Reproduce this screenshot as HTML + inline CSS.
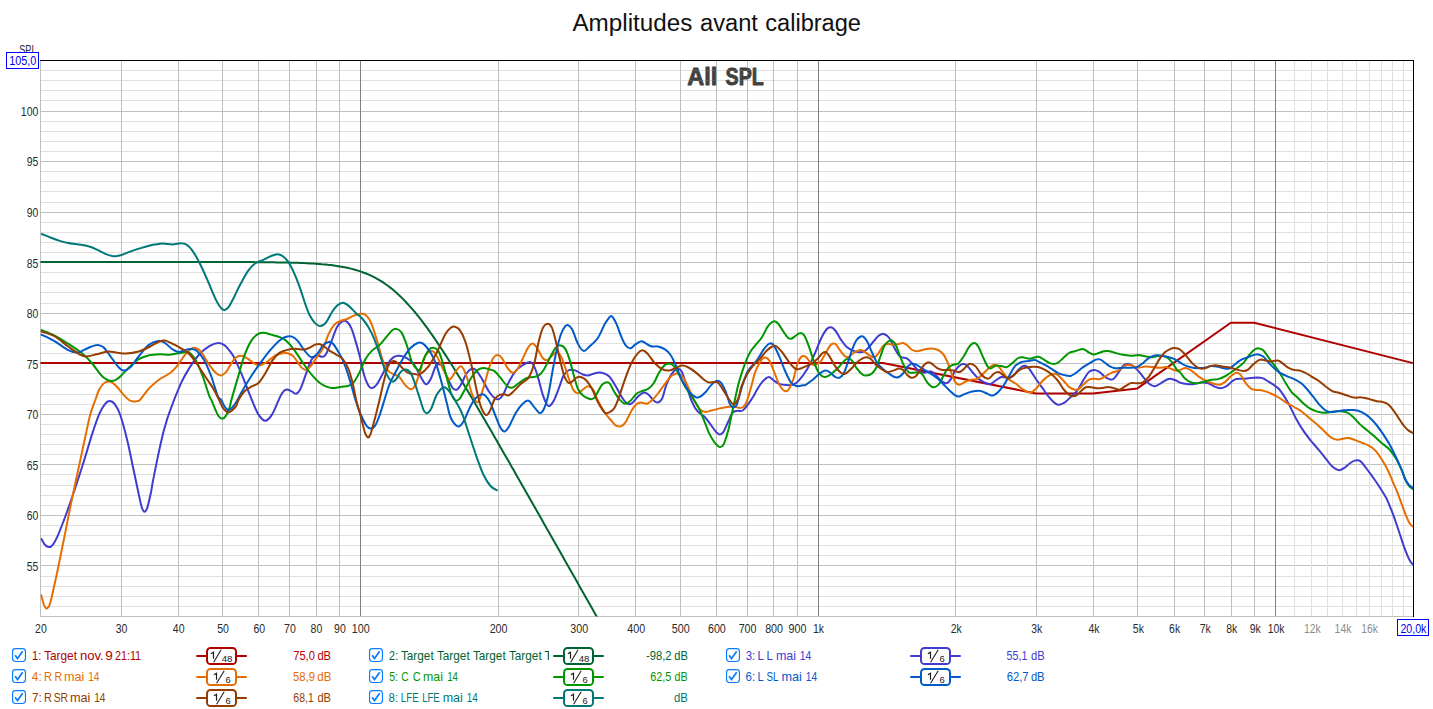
<!DOCTYPE html>
<html><head><meta charset="utf-8"><title>Amplitudes avant calibrage</title>
<style>html,body{margin:0;padding:0;background:#fff;overflow:hidden}body{width:1433px;height:709px;font-family:"Liberation Sans",sans-serif}svg{display:block}</style>
</head><body>
<svg width="1433" height="709" viewBox="0 0 1433 709">
<rect width="1433" height="709" fill="#fff"/>
<g shape-rendering="crispEdges" stroke-width="1" fill="none">
<line x1="40.5" x2="1413.5" y1="606.5" y2="606.5" stroke="#e0e0e0"/>
<line x1="40.5" x2="1413.5" y1="596.5" y2="596.5" stroke="#e0e0e0"/>
<line x1="40.5" x2="1413.5" y1="586.5" y2="586.5" stroke="#e0e0e0"/>
<line x1="40.5" x2="1413.5" y1="576.5" y2="576.5" stroke="#e0e0e0"/>
<line x1="40.5" x2="1413.5" y1="555.5" y2="555.5" stroke="#e0e0e0"/>
<line x1="40.5" x2="1413.5" y1="545.5" y2="545.5" stroke="#e0e0e0"/>
<line x1="40.5" x2="1413.5" y1="535.5" y2="535.5" stroke="#e0e0e0"/>
<line x1="40.5" x2="1413.5" y1="525.5" y2="525.5" stroke="#e0e0e0"/>
<line x1="40.5" x2="1413.5" y1="505.5" y2="505.5" stroke="#e0e0e0"/>
<line x1="40.5" x2="1413.5" y1="495.5" y2="495.5" stroke="#e0e0e0"/>
<line x1="40.5" x2="1413.5" y1="485.5" y2="485.5" stroke="#e0e0e0"/>
<line x1="40.5" x2="1413.5" y1="474.5" y2="474.5" stroke="#e0e0e0"/>
<line x1="40.5" x2="1413.5" y1="454.5" y2="454.5" stroke="#e0e0e0"/>
<line x1="40.5" x2="1413.5" y1="444.5" y2="444.5" stroke="#e0e0e0"/>
<line x1="40.5" x2="1413.5" y1="434.5" y2="434.5" stroke="#e0e0e0"/>
<line x1="40.5" x2="1413.5" y1="424.5" y2="424.5" stroke="#e0e0e0"/>
<line x1="40.5" x2="1413.5" y1="404.5" y2="404.5" stroke="#e0e0e0"/>
<line x1="40.5" x2="1413.5" y1="394.5" y2="394.5" stroke="#e0e0e0"/>
<line x1="40.5" x2="1413.5" y1="383.5" y2="383.5" stroke="#e0e0e0"/>
<line x1="40.5" x2="1413.5" y1="373.5" y2="373.5" stroke="#e0e0e0"/>
<line x1="40.5" x2="1413.5" y1="353.5" y2="353.5" stroke="#e0e0e0"/>
<line x1="40.5" x2="1413.5" y1="343.5" y2="343.5" stroke="#e0e0e0"/>
<line x1="40.5" x2="1413.5" y1="333.5" y2="333.5" stroke="#e0e0e0"/>
<line x1="40.5" x2="1413.5" y1="323.5" y2="323.5" stroke="#e0e0e0"/>
<line x1="40.5" x2="1413.5" y1="303.5" y2="303.5" stroke="#e0e0e0"/>
<line x1="40.5" x2="1413.5" y1="292.5" y2="292.5" stroke="#e0e0e0"/>
<line x1="40.5" x2="1413.5" y1="282.5" y2="282.5" stroke="#e0e0e0"/>
<line x1="40.5" x2="1413.5" y1="272.5" y2="272.5" stroke="#e0e0e0"/>
<line x1="40.5" x2="1413.5" y1="252.5" y2="252.5" stroke="#e0e0e0"/>
<line x1="40.5" x2="1413.5" y1="242.5" y2="242.5" stroke="#e0e0e0"/>
<line x1="40.5" x2="1413.5" y1="232.5" y2="232.5" stroke="#e0e0e0"/>
<line x1="40.5" x2="1413.5" y1="222.5" y2="222.5" stroke="#e0e0e0"/>
<line x1="40.5" x2="1413.5" y1="202.5" y2="202.5" stroke="#e0e0e0"/>
<line x1="40.5" x2="1413.5" y1="191.5" y2="191.5" stroke="#e0e0e0"/>
<line x1="40.5" x2="1413.5" y1="181.5" y2="181.5" stroke="#e0e0e0"/>
<line x1="40.5" x2="1413.5" y1="171.5" y2="171.5" stroke="#e0e0e0"/>
<line x1="40.5" x2="1413.5" y1="151.5" y2="151.5" stroke="#e0e0e0"/>
<line x1="40.5" x2="1413.5" y1="141.5" y2="141.5" stroke="#e0e0e0"/>
<line x1="40.5" x2="1413.5" y1="131.5" y2="131.5" stroke="#e0e0e0"/>
<line x1="40.5" x2="1413.5" y1="121.5" y2="121.5" stroke="#e0e0e0"/>
<line x1="40.5" x2="1413.5" y1="100.5" y2="100.5" stroke="#e0e0e0"/>
<line x1="40.5" x2="1413.5" y1="90.5" y2="90.5" stroke="#e0e0e0"/>
<line x1="40.5" x2="1413.5" y1="80.5" y2="80.5" stroke="#e0e0e0"/>
<line x1="40.5" x2="1413.5" y1="70.5" y2="70.5" stroke="#e0e0e0"/>
<line x1="40.5" x2="1413.5" y1="565.5" y2="565.5" stroke="#c0c0c0"/>
<line x1="40.5" x2="1413.5" y1="515.5" y2="515.5" stroke="#c0c0c0"/>
<line x1="40.5" x2="1413.5" y1="464.5" y2="464.5" stroke="#c0c0c0"/>
<line x1="40.5" x2="1413.5" y1="414.5" y2="414.5" stroke="#c0c0c0"/>
<line x1="40.5" x2="1413.5" y1="363.5" y2="363.5" stroke="#c0c0c0"/>
<line x1="40.5" x2="1413.5" y1="313.5" y2="313.5" stroke="#c0c0c0"/>
<line x1="40.5" x2="1413.5" y1="262.5" y2="262.5" stroke="#c0c0c0"/>
<line x1="40.5" x2="1413.5" y1="212.5" y2="212.5" stroke="#c0c0c0"/>
<line x1="40.5" x2="1413.5" y1="161.5" y2="161.5" stroke="#c0c0c0"/>
<line x1="40.5" x2="1413.5" y1="111.5" y2="111.5" stroke="#c0c0c0"/>
<line x1="1294.5" x2="1294.5" y1="60.5" y2="616.5" stroke="#e0e0e0"/>
<line x1="1311.5" x2="1311.5" y1="60.5" y2="616.5" stroke="#e0e0e0"/>
<line x1="1327.5" x2="1327.5" y1="60.5" y2="616.5" stroke="#e0e0e0"/>
<line x1="1342.5" x2="1342.5" y1="60.5" y2="616.5" stroke="#e0e0e0"/>
<line x1="1356.5" x2="1356.5" y1="60.5" y2="616.5" stroke="#e0e0e0"/>
<line x1="1369.5" x2="1369.5" y1="60.5" y2="616.5" stroke="#e0e0e0"/>
<line x1="1381.5" x2="1381.5" y1="60.5" y2="616.5" stroke="#e0e0e0"/>
<line x1="1392.5" x2="1392.5" y1="60.5" y2="616.5" stroke="#e0e0e0"/>
<line x1="1403.5" x2="1403.5" y1="60.5" y2="616.5" stroke="#e0e0e0"/>
<line x1="121.5" x2="121.5" y1="60.5" y2="616.5" stroke="#c0c0c0"/>
<line x1="178.5" x2="178.5" y1="60.5" y2="616.5" stroke="#c0c0c0"/>
<line x1="222.5" x2="222.5" y1="60.5" y2="616.5" stroke="#c0c0c0"/>
<line x1="258.5" x2="258.5" y1="60.5" y2="616.5" stroke="#c0c0c0"/>
<line x1="289.5" x2="289.5" y1="60.5" y2="616.5" stroke="#c0c0c0"/>
<line x1="316.5" x2="316.5" y1="60.5" y2="616.5" stroke="#c0c0c0"/>
<line x1="339.5" x2="339.5" y1="60.5" y2="616.5" stroke="#c0c0c0"/>
<line x1="498.5" x2="498.5" y1="60.5" y2="616.5" stroke="#c0c0c0"/>
<line x1="578.5" x2="578.5" y1="60.5" y2="616.5" stroke="#c0c0c0"/>
<line x1="635.5" x2="635.5" y1="60.5" y2="616.5" stroke="#c0c0c0"/>
<line x1="680.5" x2="680.5" y1="60.5" y2="616.5" stroke="#c0c0c0"/>
<line x1="716.5" x2="716.5" y1="60.5" y2="616.5" stroke="#c0c0c0"/>
<line x1="747.5" x2="747.5" y1="60.5" y2="616.5" stroke="#c0c0c0"/>
<line x1="773.5" x2="773.5" y1="60.5" y2="616.5" stroke="#c0c0c0"/>
<line x1="797.5" x2="797.5" y1="60.5" y2="616.5" stroke="#c0c0c0"/>
<line x1="955.5" x2="955.5" y1="60.5" y2="616.5" stroke="#c0c0c0"/>
<line x1="1036.5" x2="1036.5" y1="60.5" y2="616.5" stroke="#c0c0c0"/>
<line x1="1093.5" x2="1093.5" y1="60.5" y2="616.5" stroke="#c0c0c0"/>
<line x1="1137.5" x2="1137.5" y1="60.5" y2="616.5" stroke="#c0c0c0"/>
<line x1="1174.5" x2="1174.5" y1="60.5" y2="616.5" stroke="#c0c0c0"/>
<line x1="1204.5" x2="1204.5" y1="60.5" y2="616.5" stroke="#c0c0c0"/>
<line x1="1231.5" x2="1231.5" y1="60.5" y2="616.5" stroke="#c0c0c0"/>
<line x1="1254.5" x2="1254.5" y1="60.5" y2="616.5" stroke="#c0c0c0"/>
<line x1="360.5" x2="360.5" y1="60.5" y2="616.5" stroke="#808080"/>
<line x1="818.5" x2="818.5" y1="60.5" y2="616.5" stroke="#808080"/>
<line x1="1275.5" x2="1275.5" y1="60.5" y2="616.5" stroke="#808080"/>
<line x1="40.5" x2="40.5" y1="60.5" y2="617.0" stroke="#c0c0c0"/>
<line x1="40.0" x2="1414.0" y1="616.5" y2="616.5" stroke="#c0c0c0"/>
<line x1="40.0" x2="1414.0" y1="60.5" y2="60.5" stroke="#000"/>
<line x1="1413.5" x2="1413.5" y1="60.5" y2="617.0" stroke="#000"/>
</g>
<g font-family="Liberation Sans, sans-serif">
<text x="687.3" y="84.5" font-size="23" fill="#404040" textLength="30.0" lengthAdjust="spacingAndGlyphs" font-weight="bold" stroke="#404040" stroke-width="0.8" stroke-linejoin="round">All</text>
<text x="725.6" y="84.5" font-size="23" fill="#404040" textLength="38.2" lengthAdjust="spacingAndGlyphs" font-weight="bold" stroke="#404040" stroke-width="0.8" stroke-linejoin="round">SPL</text>
<clipPath id="wm"><text x="687.3" y="84.5" font-size="23" font-weight="bold" textLength="30.0" lengthAdjust="spacingAndGlyphs">All</text><text x="725.6" y="84.5" font-size="23" font-weight="bold" textLength="38.2" lengthAdjust="spacingAndGlyphs">SPL</text></clipPath>
<g clip-path="url(#wm)" stroke="#5c5c5c" stroke-width="1" shape-rendering="crispEdges"><line x1="680" x2="770" y1="70.5" y2="70.5"/><line x1="680" x2="770" y1="80.5" y2="80.5"/><line x1="716.5" x2="716.5" y1="60" y2="90"/><line x1="747.5" x2="747.5" y1="60" y2="90"/></g>
</g>
<clipPath id="cp"><rect x="40.5" y="60.5" width="1373.0" height="556.0"/></clipPath>
<g clip-path="url(#cp)" fill="none" stroke-width="2" stroke-linejoin="round">
<path d="M39.9,363.1 L882.9,363.1 L1035.8,393.4 L1093.0,393.4 L1137.4,388.4 L1230.8,322.7 L1254.2,322.7 L1412.9,363.1" stroke="#b00000"/>
<path d="M39.9,262.0 L42.9,262.0 L45.9,262.0 L48.9,262.0 L51.9,262.0 L54.9,262.0 L57.9,262.0 L60.9,262.0 L63.9,262.0 L66.9,262.0 L69.9,262.0 L72.9,262.0 L75.9,262.0 L78.9,262.0 L81.9,262.0 L84.9,262.0 L87.9,262.0 L90.9,262.0 L93.9,262.0 L96.9,262.0 L99.9,262.0 L102.9,262.0 L105.9,262.0 L108.9,262.0 L111.9,262.0 L114.9,262.0 L117.9,262.0 L120.9,262.0 L123.9,262.0 L126.9,262.0 L129.9,262.0 L132.9,262.0 L135.9,262.0 L138.9,262.0 L141.9,262.0 L144.9,262.0 L147.9,262.0 L150.9,262.0 L153.9,262.0 L156.9,262.0 L159.9,262.0 L162.9,262.0 L165.9,262.0 L168.9,262.0 L171.9,262.0 L174.9,262.0 L177.9,262.0 L180.9,262.0 L183.9,262.0 L186.9,262.0 L189.9,262.0 L192.9,262.0 L195.9,262.0 L198.9,262.0 L201.9,262.0 L204.9,262.0 L207.9,262.0 L210.9,262.0 L213.9,262.0 L216.9,262.0 L219.9,262.0 L222.9,262.1 L225.9,262.1 L228.9,262.1 L231.9,262.1 L234.9,262.1 L237.9,262.1 L240.9,262.1 L243.9,262.1 L246.9,262.1 L249.9,262.1 L252.9,262.1 L255.9,262.2 L258.9,262.2 L261.9,262.2 L264.9,262.2 L267.9,262.3 L270.9,262.3 L273.9,262.3 L276.9,262.4 L279.9,262.4 L282.9,262.5 L285.9,262.5 L288.9,262.6 L291.9,262.7 L294.9,262.8 L297.9,262.8 L300.9,263.0 L303.9,263.1 L306.9,263.2 L309.9,263.4 L312.9,263.5 L315.9,263.7 L318.9,263.9 L321.9,264.2 L324.9,264.4 L327.9,264.8 L330.9,265.1 L333.9,265.5 L336.9,265.9 L339.9,266.4 L342.9,266.9 L345.9,267.5 L348.9,268.1 L351.9,268.9 L354.9,269.7 L357.9,270.6 L360.9,271.6 L363.9,272.7 L366.9,273.8 L369.9,275.2 L372.9,276.6 L375.9,278.2 L378.9,279.9 L381.9,281.7 L384.9,283.7 L387.9,285.8 L390.9,288.1 L393.9,290.6 L396.9,293.2 L399.9,296.0 L402.9,298.9 L405.9,302.0 L408.9,305.3 L411.9,308.7 L414.9,312.2 L417.9,315.9 L420.9,319.7 L423.9,323.6 L426.9,327.7 L429.9,331.8 L432.9,336.1 L435.9,340.5 L438.9,344.9 L441.9,349.5 L444.9,354.1 L447.9,358.8 L450.9,363.5 L453.9,368.3 L456.9,373.2 L459.9,378.1 L462.9,383.0 L465.9,388.0 L468.9,393.0 L471.9,398.1 L474.9,403.1 L477.9,408.2 L480.9,413.4 L483.9,418.5 L486.9,423.7 L489.9,428.8 L492.9,434.0 L495.9,439.2 L498.9,444.4 L501.9,449.7 L504.9,454.9 L507.9,460.1 L510.9,465.4 L513.9,470.6 L516.9,475.9 L519.9,481.2 L522.9,486.4 L525.9,491.7 L528.9,497.0 L531.9,502.2 L534.9,507.5 L537.9,512.8 L540.9,518.1 L543.9,523.4 L546.9,528.7 L549.9,534.0 L552.9,539.2 L555.9,544.5 L558.9,549.8 L561.9,555.1 L564.9,560.4 L567.9,565.7 L570.9,571.0 L573.9,576.3 L576.9,581.6 L579.9,586.9 L582.9,592.2 L585.9,597.5 L588.9,602.8 L591.9,608.1 L594.9,613.4 L597.9,618.7" stroke="#006432"/>
<path d="M41.0,538.3C41.6,539.3 43.6,543.3 44.9,544.8C46.3,546.3 47.6,547.1 48.9,547.1C50.2,547.1 51.4,546.7 52.8,544.8C54.3,542.9 55.6,540.6 57.8,535.7C59.9,530.8 63.2,522.2 65.7,515.5C68.1,508.9 69.8,504.0 72.6,495.8C75.4,487.6 79.0,476.6 82.3,466.3C85.6,456.0 89.4,442.5 92.2,433.9C95.0,425.2 97.1,419.0 99.2,414.1C101.4,409.2 103.2,406.4 104.9,404.2C106.6,402.1 107.7,401.1 109.4,401.1C111.0,401.1 112.9,401.8 114.8,404.2C116.6,406.6 118.3,409.4 120.4,415.5C122.5,421.6 125.3,432.2 127.4,440.9C129.6,449.6 131.3,459.3 133.1,467.7C134.9,476.1 136.7,484.7 138.1,491.2C139.5,497.7 140.5,503.3 141.6,506.7C142.7,510.1 143.4,511.8 144.4,511.8C145.4,511.8 146.5,510.1 147.6,506.7C148.7,503.3 150.3,495.3 151.2,491.2C152.0,487.0 151.6,488.1 152.8,481.8C154.1,475.5 156.6,462.3 158.5,453.6C160.4,444.9 162.2,436.7 164.1,429.6C166.0,422.6 166.9,419.0 169.8,411.3C172.6,403.5 177.8,390.5 181.0,383.2C184.3,376.0 186.5,372.5 189.5,367.7C192.6,362.9 196.1,357.9 199.4,354.3C202.7,350.7 206.1,348.0 209.3,346.1C212.4,344.2 215.8,343.1 218.4,343.0C221.0,342.9 222.5,343.7 224.8,345.4C227.0,347.2 230.0,351.1 231.8,353.6C233.6,356.1 234.1,357.4 235.6,360.6C237.2,363.9 239.4,368.9 241.3,373.3C243.2,377.8 245.2,383.0 246.9,387.4C248.7,391.9 250.0,395.6 251.9,400.0C253.7,404.4 256.0,410.6 258.2,414.1C260.4,417.6 262.9,420.7 265.3,420.7C267.6,420.7 270.1,417.6 272.3,414.1C274.5,410.6 277.0,403.5 278.7,400.0C280.3,396.5 280.9,394.8 282.2,393.1C283.5,391.3 284.8,389.8 286.4,389.6C288.1,389.3 290.4,391.0 292.1,391.7C293.7,392.4 294.9,394.3 296.3,393.8C297.7,393.3 298.9,392.3 300.5,388.9C302.2,385.4 304.3,378.3 306.2,373.3C308.0,368.4 309.9,362.2 311.8,359.2C313.7,356.3 315.7,356.1 317.4,355.7C319.2,355.3 321.0,357.1 322.4,356.8C323.8,356.6 324.4,357.0 325.9,354.3C327.4,351.6 329.7,345.5 331.6,340.9C333.4,336.3 335.3,330.1 337.2,326.8C339.1,323.5 341.2,322.0 342.8,321.2C344.5,320.3 345.7,320.7 347.1,321.9C348.5,323.0 349.9,325.0 351.3,328.2C352.7,331.4 354.1,336.2 355.5,340.9C356.9,345.6 358.3,350.8 359.8,356.4C361.2,362.1 362.6,369.9 364.0,374.8C365.4,379.6 366.9,383.1 368.2,385.3C369.5,387.6 370.3,388.3 371.7,388.2C373.2,388.0 374.9,386.9 376.7,384.6C378.4,382.4 380.4,378.3 382.3,374.8C384.2,371.2 386.1,366.4 388.0,363.5C389.8,360.5 391.7,358.4 393.6,357.1C395.5,355.8 397.1,355.6 399.3,355.7C401.4,355.8 404.0,356.5 406.3,357.8C408.7,359.1 411.0,360.4 413.4,363.5C415.7,366.5 418.6,373.0 420.4,376.2C422.2,379.4 423.1,381.3 424.2,382.6C425.3,384.0 425.9,384.9 427.1,384.0C428.2,383.2 429.9,380.6 431.3,377.7C432.7,374.8 434.2,368.7 435.5,366.4C436.8,364.2 437.9,364.3 439.0,364.3C440.2,364.3 441.3,364.4 442.6,366.4C443.9,368.4 445.2,372.8 446.8,376.3C448.4,379.8 450.8,385.3 452.4,387.6C454.1,389.8 455.3,390.2 456.7,389.7C458.1,389.2 459.3,387.5 460.9,384.8C462.5,382.0 464.7,376.2 466.5,373.5C468.4,370.8 470.5,369.0 472.2,368.5C473.8,368.1 474.8,368.9 476.4,370.6C478.1,372.4 479.9,375.6 482.1,379.1C484.2,382.6 487.0,388.6 489.1,391.8C491.2,395.0 493.1,396.9 494.8,398.2C496.4,399.4 497.6,399.7 499.0,399.1C500.4,398.6 501.6,397.5 503.2,394.6C504.9,391.8 506.7,385.9 508.9,381.9C511.0,377.9 513.6,373.5 515.9,370.6C518.3,367.8 520.6,366.5 523.0,365.0C525.3,363.5 528.1,361.7 530.0,361.9C531.9,362.1 532.8,363.5 534.2,366.4C535.7,369.3 537.1,374.4 538.5,379.1C539.9,383.8 541.3,390.4 542.7,394.6C544.1,398.9 545.8,402.6 546.9,404.5C548.1,406.4 548.6,406.6 549.8,405.9C550.9,405.2 552.3,403.6 554.0,400.3C555.6,397.0 558.0,390.4 559.6,386.2C561.3,381.9 562.2,377.6 563.9,374.9C565.5,372.2 567.6,370.7 569.5,369.9C571.4,369.2 573.0,369.7 575.1,370.4C577.3,371.1 580.1,373.3 582.2,374.2C584.3,375.0 585.7,375.7 587.8,375.6C590.0,375.4 592.5,373.7 594.9,373.2C597.2,372.7 599.6,372.2 601.9,372.8C604.3,373.3 606.7,374.1 609.0,376.3C611.3,378.5 613.4,382.3 615.6,386.0C617.9,389.7 620.6,395.5 622.7,398.5C624.8,401.5 626.7,403.4 628.3,404.1C630.0,404.8 630.9,404.0 632.6,402.7C634.2,401.4 636.3,398.0 638.2,396.3C640.1,394.7 642.2,392.9 643.9,392.5C645.5,392.2 646.4,392.9 648.1,394.2C649.7,395.6 652.1,399.2 653.7,400.6C655.4,401.9 656.5,402.8 658.0,402.4C659.4,402.1 660.8,401.4 662.2,398.5C663.6,395.5 664.8,388.8 666.4,384.6C668.1,380.4 670.2,375.9 672.1,373.3C673.9,370.8 676.1,369.3 677.7,369.1C679.3,368.9 680.5,369.3 681.9,371.9C683.3,374.5 684.5,379.7 686.2,384.6C687.8,389.5 689.9,396.9 691.8,401.3C693.7,405.7 695.3,408.6 697.4,411.2C699.6,413.7 702.4,414.7 704.5,416.8C706.6,418.9 708.3,421.4 710.1,423.9C712.0,426.3 714.4,430.0 715.8,431.6C717.1,433.3 717.5,433.3 718.2,433.7C718.9,434.2 719.4,434.5 720.0,434.4C720.6,434.4 721.3,434.1 722.0,433.4C722.7,432.8 723.2,432.7 724.2,430.6C725.3,428.6 727.1,424.0 728.5,421.0C729.9,418.0 731.3,414.3 732.7,412.6C734.1,410.9 735.3,411.2 736.9,410.9C738.6,410.5 740.7,411.6 742.6,410.5C744.5,409.3 746.3,406.6 748.2,404.1C750.1,401.6 752.5,397.9 753.9,395.6C755.3,393.3 755.3,392.6 756.7,390.3C758.1,388.0 760.3,384.0 762.3,381.8C764.3,379.6 766.8,377.1 768.7,376.9C770.6,376.6 771.8,379.2 773.6,380.4C775.4,381.6 777.1,383.1 779.3,383.9C781.4,384.7 784.0,384.9 786.3,385.0C788.7,385.2 791.2,385.4 793.4,384.6C795.5,383.9 796.7,383.0 799.0,380.4C801.3,377.8 804.5,373.4 807.1,369.2C809.6,365.0 811.8,360.3 814.1,355.1C816.5,350.0 819.0,342.6 821.2,338.2C823.3,333.9 825.2,330.9 826.8,329.0C828.4,327.2 829.6,327.0 831.0,327.2C832.4,327.4 833.6,328.4 835.3,330.5C836.9,332.5 839.0,336.9 840.9,339.6C842.8,342.3 844.4,344.8 846.5,346.7C848.7,348.6 851.5,350.0 853.6,350.9C855.7,351.8 857.4,352.3 859.2,352.3C861.1,352.3 863.0,352.1 864.9,350.9C866.8,349.7 868.6,347.4 870.5,345.3C872.4,343.1 874.5,340.0 876.2,338.2C877.8,336.4 879.1,335.4 880.4,334.7C881.7,334.0 882.5,333.5 883.9,334.0C885.3,334.4 887.1,335.2 888.9,337.5C890.6,339.9 892.6,344.9 894.5,348.1C896.4,351.3 898.0,354.8 900.1,356.5C902.3,358.3 905.1,357.4 907.2,358.7C909.3,360.0 911.0,362.3 912.8,364.3C914.7,366.3 916.6,369.2 918.5,370.6C920.4,372.1 922.0,372.6 924.1,372.8C926.2,372.9 929.1,370.8 931.2,371.4C933.3,371.9 934.9,374.5 936.8,376.3C938.7,378.1 940.8,380.8 942.5,381.9C944.1,383.1 945.3,383.5 946.7,383.1C948.1,382.6 949.5,381.2 950.9,379.1C952.3,377.0 953.7,372.9 955.1,370.6C956.6,368.4 958.0,366.8 959.4,365.7C960.8,364.6 962.2,363.9 963.6,364.0C965.0,364.1 966.2,364.8 967.8,366.4C969.5,368.0 971.6,371.4 973.5,373.5C975.4,375.6 977.2,377.6 979.1,379.1C981.0,380.6 982.9,381.8 984.8,382.6C986.6,383.5 988.6,384.4 990.4,384.0C992.2,383.7 993.8,381.7 995.6,380.5C997.5,379.3 999.4,377.5 1001.3,377.0C1003.2,376.5 1005.0,377.8 1006.9,377.7C1008.8,377.6 1010.7,377.6 1012.6,376.3C1014.4,375.0 1016.6,371.6 1018.2,369.9C1019.9,368.3 1021.1,367.1 1022.4,366.4C1023.7,365.8 1024.8,365.5 1026.0,366.0C1027.1,366.5 1028.0,367.3 1029.5,369.2C1031.0,371.2 1033.0,374.6 1035.1,377.7C1037.2,380.8 1039.8,384.3 1042.2,387.6C1044.5,390.9 1047.1,394.9 1049.2,397.4C1051.4,400.0 1053.2,401.9 1054.9,403.1C1056.5,404.3 1057.5,404.9 1059.1,404.8C1060.8,404.7 1062.9,403.6 1064.8,402.4C1066.6,401.2 1068.3,399.4 1070.4,397.4C1072.5,395.4 1075.3,393.2 1077.4,390.4C1079.6,387.6 1081.2,383.6 1083.1,380.5C1085.0,377.5 1087.0,373.8 1088.7,372.1C1090.5,370.3 1092.0,370.1 1093.7,369.9C1095.3,369.8 1096.8,370.3 1098.6,371.4C1100.4,372.4 1102.4,375.0 1104.2,376.3C1106.1,377.6 1108.2,379.0 1109.9,379.4C1111.5,379.7 1112.5,379.9 1114.1,378.4C1115.8,376.9 1118.1,372.9 1119.8,370.6C1121.4,368.4 1122.6,366.1 1124.0,365.0C1125.4,363.9 1126.8,363.9 1128.2,364.0C1129.6,364.1 1130.8,364.6 1132.5,365.7C1134.1,366.8 1136.2,368.7 1138.1,370.6C1140.0,372.6 1141.9,375.5 1143.7,377.7C1145.6,379.9 1147.5,382.6 1149.4,384.0C1151.3,385.5 1153.1,386.3 1155.0,386.2C1156.9,386.0 1158.8,384.4 1160.7,383.3C1162.5,382.3 1164.7,380.6 1166.3,379.8C1168.0,379.1 1168.9,378.7 1170.5,378.8C1172.2,378.9 1174.6,379.9 1176.2,380.5C1177.8,381.2 1178.2,382.0 1180.0,382.6C1181.8,383.2 1184.7,383.8 1187.1,384.0C1189.4,384.3 1191.8,384.3 1194.1,384.0C1196.5,383.8 1198.8,382.8 1201.2,382.6C1203.5,382.5 1205.9,382.6 1208.2,383.3C1210.6,384.0 1213.1,386.0 1215.3,386.9C1217.4,387.7 1219.0,388.4 1220.9,388.3C1222.8,388.2 1224.7,387.3 1226.5,386.2C1228.4,385.0 1230.5,382.4 1232.2,381.2C1233.8,380.1 1234.5,379.5 1236.4,379.1C1238.3,378.7 1241.1,378.9 1243.5,378.7C1245.8,378.5 1248.2,378.3 1250.5,378.1C1252.9,377.9 1255.5,377.4 1257.6,377.4C1259.7,377.5 1261.3,377.7 1263.2,378.4C1265.1,379.2 1267.0,380.8 1268.9,381.9C1270.7,383.1 1272.6,384.0 1274.5,385.5C1276.4,386.9 1277.9,387.5 1280.1,390.4C1282.4,393.3 1285.5,398.1 1288.1,402.7C1290.7,407.3 1293.2,413.3 1295.7,417.9C1298.2,422.6 1300.8,426.8 1303.3,430.6C1305.9,434.4 1308.4,437.6 1310.9,440.8C1313.5,443.9 1316.0,446.6 1318.5,449.7C1321.1,452.7 1323.8,456.3 1326.2,459.2C1328.5,462.0 1330.4,465.0 1332.5,466.8C1334.6,468.6 1337.0,470.0 1338.9,470.2C1340.8,470.4 1342.0,469.3 1343.9,468.1C1345.8,466.9 1348.4,464.3 1350.3,463.0C1352.2,461.7 1353.7,460.8 1355.4,460.4C1357.0,460.1 1358.7,459.9 1360.4,461.1C1362.1,462.2 1364.3,465.9 1365.5,467.4C1366.7,468.9 1366.2,468.1 1367.6,470.0C1369.0,471.9 1371.7,475.6 1373.8,478.5C1375.9,481.5 1378.0,484.6 1380.0,487.8C1382.1,491.1 1384.4,494.4 1386.2,497.9C1388.0,501.4 1389.3,504.9 1390.9,508.8C1392.4,512.7 1394.0,516.8 1395.5,521.2C1397.1,525.6 1398.6,530.5 1400.2,535.2C1401.7,539.8 1403.3,545.0 1404.9,549.2C1406.4,553.3 1408.1,557.4 1409.5,560.0C1410.9,562.7 1412.7,564.2 1413.4,565.0" stroke="#403cd0"/>
<path d="M41.0,594.5C41.5,596.2 43.0,602.5 43.9,604.8C44.9,607.1 45.9,608.5 46.9,608.4C47.9,608.2 48.7,607.5 49.9,604.0C51.0,600.6 52.2,595.0 53.8,587.6C55.5,580.3 57.8,569.5 59.7,560.0C61.7,550.4 63.7,540.2 65.7,530.4C67.6,520.5 69.1,512.6 71.6,500.7C74.1,488.9 78.3,469.4 80.5,459.2C82.7,449.0 83.1,447.0 84.7,439.5C86.4,432.0 88.6,420.7 90.4,414.1C92.1,407.5 93.8,404.2 95.3,400.0C96.8,395.8 97.9,391.8 99.5,388.9C101.1,385.9 103.0,383.7 104.9,382.5C106.7,381.3 108.6,381.2 110.5,381.8C112.4,382.4 113.8,383.7 116.2,386.0C118.5,388.4 122.5,393.6 124.6,395.9C126.8,398.2 128.0,399.1 129.1,400.0C130.3,400.9 130.8,400.9 131.7,401.1C132.6,401.4 133.6,401.6 134.5,401.6C135.4,401.6 136.4,401.4 137.3,401.1C138.2,400.9 138.7,401.2 139.9,400.0C141.0,398.8 142.7,396.3 144.4,394.2C146.1,392.1 147.4,390.0 150.0,387.4C152.6,384.9 156.6,381.3 159.9,379.0C163.2,376.6 166.9,375.5 169.8,373.3C172.6,371.2 174.2,369.5 176.8,366.3C179.4,363.1 182.8,357.2 185.3,354.3C187.7,351.4 190.0,349.7 191.6,348.7C193.3,347.6 193.6,347.5 195.1,348.0C196.7,348.4 198.4,348.7 200.8,351.5C203.1,354.3 206.7,361.2 209.3,364.9C211.8,368.5 214.3,371.6 216.3,373.3C218.3,375.1 219.6,375.7 221.2,375.5C222.9,375.2 224.7,373.6 226.2,371.9C227.6,370.3 228.4,367.9 230.0,365.6C231.6,363.2 233.6,359.5 235.6,357.8C237.6,356.2 239.9,355.5 242.0,355.7C244.1,355.9 246.1,357.8 248.3,359.2C250.6,360.6 253.4,363.2 255.4,364.2C257.4,365.2 258.4,365.5 260.3,365.2C262.2,364.8 264.2,363.6 266.7,362.1C269.1,360.5 272.5,357.2 275.1,355.7C277.7,354.2 280.1,353.6 282.2,353.2C284.3,352.8 285.9,352.8 287.8,353.3C289.7,353.9 291.4,354.3 293.5,356.4C295.6,358.6 298.5,364.1 300.5,366.3C302.5,368.5 303.8,369.8 305.5,369.8C307.1,369.8 308.4,368.5 310.4,366.3C312.4,364.1 315.3,359.5 317.4,356.4C319.6,353.4 321.2,351.7 323.1,348.0C325.0,344.2 326.9,337.7 328.7,333.9C330.6,330.0 332.5,326.8 334.4,324.7C336.3,322.6 337.9,322.1 340.0,321.2C342.1,320.2 344.7,320.0 347.1,319.0C349.4,318.1 351.9,316.4 354.1,315.5C356.4,314.6 358.6,313.8 360.5,313.7C362.3,313.6 363.6,313.3 365.4,314.8C367.2,316.3 369.2,318.5 371.0,322.6C372.9,326.7 374.8,333.4 376.7,339.5C378.6,345.6 380.4,354.1 382.3,359.2C384.2,364.4 386.1,368.1 388.0,370.5C389.8,373.0 391.7,373.0 393.6,374.0C395.5,375.1 397.4,375.1 399.3,376.9C401.1,378.6 403.0,382.6 404.9,384.6C406.8,386.7 408.9,389.0 410.5,389.3C412.2,389.5 413.4,388.5 414.8,386.0C416.2,383.6 417.2,379.9 419.0,374.8C420.8,369.6 423.6,359.1 425.6,355.1C427.7,351.2 429.6,351.1 431.3,350.9C432.9,350.7 433.9,351.4 435.5,353.7C437.2,356.1 439.3,361.2 441.2,365.0C443.0,368.8 445.3,373.9 446.8,376.3C448.3,378.6 448.9,379.8 450.3,379.1C451.7,378.4 453.6,374.2 455.3,372.1C456.9,369.9 458.8,366.9 460.2,366.4C461.6,365.9 462.4,366.9 463.7,369.2C465.0,371.6 466.5,376.3 468.0,380.5C469.4,384.8 470.8,391.1 472.2,394.6C473.6,398.2 475.2,400.7 476.4,401.7C477.6,402.6 478.1,402.6 479.2,400.3C480.4,397.9 481.8,393.0 483.5,387.6C485.1,382.2 487.5,372.8 489.1,367.8C490.8,362.9 491.9,360.1 493.3,358.0C494.8,355.8 496.2,355.1 497.6,355.1C499.0,355.1 500.2,355.8 501.8,358.0C503.5,360.1 505.7,365.4 507.4,367.8C509.2,370.3 510.7,372.5 512.4,372.8C514.0,373.0 515.6,371.7 517.3,369.2C519.1,366.8 521.1,361.7 523.0,358.0C524.8,354.2 527.0,349.1 528.6,346.7C530.2,344.3 531.4,343.3 532.8,343.6C534.2,343.8 535.4,345.7 537.1,348.1C538.7,350.5 541.1,356.0 542.7,358.0C544.4,360.0 545.3,360.5 546.9,360.1C548.6,359.6 550.9,356.4 552.6,355.1C554.2,353.8 555.4,352.1 556.8,352.3C558.2,352.5 559.6,354.0 561.0,356.5C562.5,359.1 563.9,363.8 565.3,367.8C566.7,371.8 568.1,376.8 569.5,380.5C570.9,384.3 572.3,388.3 573.7,390.4C575.1,392.5 576.3,393.5 578.0,393.2C579.6,393.0 581.8,390.2 583.6,389.0C585.4,387.8 586.9,385.9 588.5,386.2C590.2,386.4 592.0,388.0 593.5,390.4C595.0,392.7 595.8,396.6 597.7,400.3C599.6,404.0 602.4,409.2 604.8,412.7C607.1,416.2 610.0,419.1 611.8,421.2C613.6,423.3 614.2,424.4 615.6,425.3C617.1,426.1 618.9,426.9 620.6,426.4C622.2,425.9 623.8,425.0 625.5,422.4C627.3,419.9 629.3,414.2 631.2,411.2C633.0,408.1 635.2,405.6 636.8,404.1C638.4,402.6 639.4,402.5 641.0,402.4C642.7,402.3 644.8,404.1 646.7,403.7C648.6,403.3 650.4,401.6 652.3,399.9C654.2,398.2 655.6,396.5 658.0,393.5C660.3,390.5 664.1,384.8 666.4,381.8C668.8,378.8 670.2,376.8 672.1,375.5C673.9,374.1 675.8,373.3 677.7,373.6C679.6,374.0 681.5,375.0 683.3,377.6C685.2,380.1 687.1,384.9 689.0,388.9C690.9,392.8 692.7,397.8 694.6,401.3C696.5,404.8 698.4,408.0 700.3,409.7C702.1,411.5 704.0,411.7 705.9,411.9C707.8,412.0 709.4,411.0 711.6,410.5C713.7,409.9 716.0,409.2 718.6,408.6C721.2,408.0 724.5,407.3 727.1,406.9C729.7,406.6 732.0,406.5 734.1,406.6C736.2,406.8 738.2,408.0 739.8,408.1C741.3,408.1 742.1,408.1 743.3,406.9C744.5,405.8 745.5,404.5 746.8,401.3C748.1,398.0 749.6,392.3 751.0,387.4C752.5,382.6 753.6,376.4 755.3,371.9C756.9,367.5 759.3,363.1 760.9,360.6C762.6,358.2 763.7,357.4 765.1,357.4C766.6,357.4 768.0,358.5 769.4,360.6C770.8,362.8 772.0,366.5 773.6,370.5C775.3,374.5 777.4,381.2 779.3,384.6C781.1,388.0 783.2,390.3 784.9,391.0C786.5,391.7 787.7,390.9 789.1,388.9C790.5,386.9 791.9,383.2 793.4,379.0C794.8,374.8 796.2,367.2 797.6,363.5C799.0,359.7 800.4,357.5 801.8,356.4C803.2,355.4 804.5,355.9 806.1,357.1C807.6,358.3 809.7,362.3 811.3,363.6C812.9,364.9 813.9,365.5 815.5,365.0C817.2,364.5 819.3,363.1 821.2,360.8C823.0,358.4 825.2,353.6 826.8,350.9C828.4,348.2 829.6,345.7 831.0,344.6C832.4,343.4 833.9,343.0 835.3,343.9C836.7,344.7 838.1,347.6 839.5,349.5C840.9,351.4 842.3,353.8 843.7,355.1C845.1,356.4 846.3,357.6 848.0,357.2C849.6,356.9 851.7,354.2 853.6,353.0C855.5,351.8 857.6,350.6 859.2,350.2C860.9,349.8 861.8,350.1 863.5,350.9C865.1,351.7 867.2,354.1 869.1,355.1C871.0,356.2 873.1,357.7 874.8,357.2C876.4,356.8 877.6,354.2 879.0,352.3C880.4,350.4 881.8,347.4 883.2,346.0C884.6,344.6 885.8,344.1 887.4,343.9C889.1,343.6 891.2,344.6 893.1,344.6C895.0,344.6 897.1,344.1 898.7,343.9C900.4,343.6 901.6,342.9 903.0,343.1C904.4,343.4 905.8,344.2 907.2,345.3C908.6,346.3 909.8,348.5 911.4,349.5C913.1,350.5 915.2,351.3 917.1,351.3C918.9,351.4 920.8,350.3 922.7,349.9C924.6,349.5 926.5,349.0 928.3,348.8C930.2,348.6 932.1,348.4 934.0,348.8C935.9,349.1 938.0,349.8 939.6,350.9C941.3,352.0 942.5,353.0 943.9,355.1C945.3,357.2 946.8,360.5 948.1,363.6C949.4,366.7 950.4,370.4 951.6,373.5C952.8,376.5 953.9,380.1 955.1,381.9C956.4,383.8 957.7,384.8 959.4,384.8C961.0,384.8 963.1,382.8 965.0,381.9C966.9,381.1 968.8,380.3 970.7,379.8C972.5,379.3 974.4,379.9 976.3,379.1C978.2,378.3 980.1,376.5 981.9,374.9C983.8,373.2 986.2,370.5 987.6,369.2C988.9,367.9 988.9,367.9 990.0,367.1C991.1,366.4 992.8,364.8 994.2,364.7C995.6,364.6 997.1,365.2 998.5,366.4C999.9,367.6 1001.0,369.9 1002.7,372.1C1004.3,374.2 1006.2,377.2 1008.3,379.1C1010.5,381.0 1013.0,381.7 1015.4,383.3C1017.7,385.0 1020.3,387.5 1022.4,389.0C1024.6,390.5 1026.4,391.8 1028.1,392.2C1029.7,392.7 1030.9,392.5 1032.3,391.8C1033.7,391.1 1034.9,390.0 1036.5,388.3C1038.2,386.5 1040.3,383.2 1042.2,381.2C1044.1,379.2 1045.9,377.5 1047.8,376.3C1049.7,375.0 1051.8,374.0 1053.5,373.8C1055.1,373.5 1056.1,373.8 1057.7,374.9C1059.3,376.0 1061.5,378.5 1063.3,380.5C1065.2,382.5 1067.1,385.3 1069.0,386.9C1070.9,388.4 1073.0,389.3 1074.6,389.7C1076.3,390.0 1077.4,389.8 1078.9,389.0C1080.3,388.2 1081.4,386.3 1083.1,384.8C1084.7,383.2 1086.9,380.8 1088.7,379.8C1090.6,378.8 1092.5,378.9 1094.4,378.8C1096.3,378.7 1098.1,379.5 1100.0,379.1C1101.9,378.7 1103.8,377.3 1105.7,376.3C1107.5,375.2 1109.2,373.7 1111.3,372.8C1113.4,371.8 1116.2,371.7 1118.3,370.6C1120.5,369.6 1122.3,367.4 1124.0,366.4C1125.6,365.4 1126.8,364.8 1128.2,364.7C1129.6,364.6 1130.8,365.2 1132.5,365.7C1134.1,366.2 1136.0,367.7 1138.1,367.8C1140.2,367.9 1142.8,366.5 1145.1,366.4C1147.5,366.3 1149.8,366.9 1152.2,367.1C1154.6,367.4 1156.9,367.8 1159.3,367.8C1161.6,367.8 1164.2,366.9 1166.3,367.1C1168.4,367.4 1170.3,368.7 1171.9,369.2C1173.6,369.8 1174.8,370.5 1176.2,370.6C1177.5,370.8 1178.4,370.4 1180.0,369.9C1181.6,369.5 1183.8,368.0 1185.6,368.1C1187.5,368.2 1189.2,369.3 1191.3,370.6C1193.4,372.0 1196.0,374.6 1198.3,376.3C1200.7,377.9 1203.0,379.3 1205.4,380.5C1207.7,381.7 1210.1,382.6 1212.4,383.3C1214.8,384.0 1217.4,385.0 1219.5,384.8C1221.6,384.5 1223.3,383.3 1225.1,381.9C1227.0,380.5 1228.9,377.8 1230.8,376.3C1232.7,374.8 1234.8,373.0 1236.4,372.8C1238.1,372.5 1239.2,373.4 1240.6,374.9C1242.1,376.4 1243.2,379.7 1244.9,381.9C1246.5,384.2 1248.9,387.0 1250.5,388.3C1252.2,389.6 1252.7,389.3 1254.8,389.7C1256.8,390.1 1260.1,390.1 1262.7,390.6C1265.3,391.2 1267.8,392.1 1270.3,393.2C1272.8,394.2 1275.4,395.5 1277.9,397.0C1280.5,398.5 1283.0,400.5 1285.5,402.1C1288.1,403.6 1290.6,405.0 1293.2,406.5C1295.7,408.0 1298.2,409.1 1300.8,410.9C1303.3,412.7 1305.9,415.2 1308.4,417.3C1310.9,419.4 1313.5,421.4 1316.0,423.6C1318.5,425.9 1321.1,428.3 1323.6,430.6C1326.2,432.9 1328.9,436.1 1331.2,437.6C1333.6,439.1 1335.5,439.6 1337.6,439.8C1339.7,439.9 1342.0,438.8 1343.9,438.5C1345.8,438.2 1347.1,437.7 1349.0,438.0C1350.9,438.3 1353.2,439.4 1355.4,440.1C1357.5,440.9 1359.4,441.7 1361.7,442.7C1364.0,443.6 1367.0,444.5 1369.3,445.9C1371.6,447.2 1373.6,448.6 1375.7,450.9C1377.8,453.3 1379.9,456.4 1382.0,459.8C1384.1,463.2 1386.6,467.7 1388.4,471.2C1390.1,474.7 1391.0,477.4 1392.4,480.9C1393.9,484.3 1395.5,487.8 1397.1,491.7C1398.6,495.6 1400.2,500.0 1401.7,504.1C1403.3,508.3 1405.0,513.2 1406.4,516.6C1407.8,519.9 1409.1,522.6 1410.3,524.3C1411.4,526.0 1412.9,526.4 1413.4,526.8" stroke="#e66e00"/>
<path d="M40.7,329.9C42.9,330.8 49.5,333.0 54.1,335.3C58.7,337.6 63.5,340.7 68.2,343.7C72.9,346.8 78.3,350.3 82.3,353.6C86.3,356.9 88.9,359.7 92.2,363.5C95.5,367.2 98.8,373.2 102.1,376.2C105.4,379.1 109.1,380.9 111.9,381.1C114.8,381.3 116.4,379.6 119.0,377.6C121.6,375.6 124.2,372.2 127.4,369.1C130.7,366.1 135.2,361.5 138.7,359.2C142.3,357.0 145.1,356.3 148.6,355.4C152.1,354.6 156.4,354.4 159.9,354.3C163.4,354.2 166.2,355.0 169.8,354.7C173.3,354.5 178.0,353.3 181.0,352.9C184.1,352.5 185.7,351.1 188.1,352.2C190.4,353.2 192.8,355.5 195.1,359.2C197.5,363.0 199.8,368.6 202.2,374.8C204.6,380.9 207.7,391.7 209.3,395.9C210.8,400.1 210.4,397.9 211.4,400.0C212.3,402.1 213.7,405.8 214.9,408.5C216.1,411.1 217.2,414.1 218.4,415.8C219.7,417.5 221.1,418.8 222.4,418.8C223.7,418.7 225.0,417.3 226.2,415.4C227.4,413.4 228.8,409.6 229.7,407.1C230.6,404.5 230.2,404.4 231.4,400.0C232.6,395.6 234.9,387.7 237.1,380.4C239.2,373.1 241.8,363.0 244.1,356.4C246.5,349.8 248.8,344.7 251.2,340.9C253.5,337.1 256.1,335.2 258.2,333.9C260.3,332.5 261.7,332.6 263.9,332.7C266.0,332.8 268.3,333.9 270.9,334.6C273.5,335.3 276.8,335.9 279.4,337.0C282.0,338.0 283.8,338.6 286.4,340.9C289.0,343.2 292.1,347.0 294.9,350.8C297.7,354.5 300.5,359.5 303.3,363.5C306.2,367.5 309.0,371.5 311.8,374.8C314.6,378.0 317.4,381.1 320.3,383.2C323.1,385.3 326.4,386.7 328.7,387.4C331.1,388.2 332.3,388.0 334.4,387.9C336.5,387.8 339.1,387.1 341.4,386.7C343.8,386.4 346.4,386.6 348.5,385.8C350.6,384.9 352.2,384.1 354.1,381.8C356.0,379.5 357.9,375.7 359.8,371.9C361.6,368.2 363.3,362.9 365.4,359.2C367.5,355.6 370.1,352.4 372.5,350.1C374.8,347.7 377.2,347.4 379.5,345.1C381.9,342.9 384.4,339.1 386.6,336.7C388.7,334.2 390.6,331.6 392.2,330.3C393.8,329.0 394.9,328.6 396.4,328.9C398.0,329.3 399.7,330.0 401.4,332.4C403.0,334.9 404.5,338.8 406.3,343.7C408.1,348.7 410.1,357.7 411.9,362.1C413.8,366.4 416.2,368.6 417.6,369.8C418.9,371.0 418.9,371.2 420.0,369.2C421.1,367.3 422.7,361.2 424.2,358.0C425.8,354.7 427.6,351.2 429.2,349.5C430.7,347.8 431.9,347.6 433.4,347.8C434.9,348.0 436.8,348.5 438.3,350.9C439.9,353.3 441.2,357.7 442.6,362.2C444.0,366.7 445.4,372.5 446.8,377.7C448.2,382.9 449.6,389.5 451.0,393.2C452.4,397.0 453.9,399.3 455.3,400.3C456.7,401.2 457.8,400.7 459.5,398.9C461.1,397.0 463.0,392.7 465.1,389.0C467.2,385.2 470.1,379.5 472.2,376.3C474.3,373.1 475.9,371.3 477.8,369.9C479.7,368.6 481.6,368.2 483.5,368.1C485.4,368.0 487.2,368.7 489.1,369.2C491.0,369.8 492.9,369.9 494.8,371.4C496.6,372.8 498.3,375.2 500.4,377.7C502.5,380.2 505.4,384.5 507.4,386.2C509.4,387.8 510.5,388.0 512.4,387.6C514.3,387.1 516.5,384.9 518.7,383.3C521.0,381.8 523.4,379.5 525.8,378.4C528.1,377.3 530.7,377.5 532.8,377.0C535.0,376.5 536.6,376.9 538.5,375.6C540.4,374.3 542.2,372.2 544.1,369.2C546.0,366.3 547.9,361.5 549.8,358.0C551.6,354.4 553.8,350.2 555.4,348.1C557.0,346.0 558.0,345.1 559.6,345.3C561.3,345.4 563.6,346.4 565.3,348.8C566.9,351.1 568.1,355.0 569.5,359.4C570.9,363.7 572.3,369.9 573.7,374.9C575.1,379.8 576.3,385.5 578.0,389.0C579.6,392.5 581.3,394.3 583.6,396.0C586.0,397.7 590.0,399.4 592.1,399.1C594.2,398.9 594.7,397.0 596.3,394.6C598.0,392.2 600.2,386.8 601.9,384.8C603.7,382.7 605.5,382.4 606.9,382.2C608.2,382.1 608.8,382.3 610.0,383.9C611.2,385.5 612.6,389.0 614.2,391.7C615.9,394.3 618.0,397.8 619.9,399.9C621.8,401.9 623.6,403.8 625.5,403.8C627.4,403.8 629.3,401.6 631.2,399.9C633.0,398.2 634.9,395.0 636.8,393.5C638.7,392.0 640.6,391.8 642.4,391.0C644.3,390.2 646.2,390.2 648.1,388.9C650.0,387.6 651.8,386.0 653.7,383.2C655.6,380.4 657.5,375.0 659.4,371.9C661.2,368.9 663.4,366.2 665.0,364.9C666.7,363.5 667.8,363.6 669.2,363.8C670.6,363.9 671.8,363.8 673.5,365.6C675.1,367.4 677.2,371.3 679.1,374.8C681.0,378.2 682.9,382.7 684.8,386.0C686.6,389.3 688.3,391.3 690.4,394.5C692.5,397.7 695.3,401.6 697.4,405.5C699.6,409.5 701.2,413.7 703.1,418.2C705.0,422.7 706.9,428.3 708.7,432.3C710.6,436.3 712.8,439.9 714.4,442.2C715.9,444.5 716.9,445.2 717.9,446.0C718.9,446.8 719.5,447.1 720.3,447.1C721.0,447.1 721.7,446.6 722.4,445.9C723.1,445.1 723.5,445.2 724.5,442.5C725.5,439.7 727.1,434.9 728.5,429.5C729.8,424.0 731.1,417.2 732.7,409.7C734.4,402.3 736.7,391.2 738.3,384.6C740.0,378.1 741.2,374.8 742.6,370.5C744.0,366.3 745.4,362.5 746.8,359.2C748.2,355.9 749.4,353.4 751.0,350.8C752.7,348.2 754.8,346.1 756.7,343.7C758.6,341.4 760.4,339.6 762.3,336.7C764.2,333.7 766.1,328.6 768.0,326.1C769.8,323.6 772.0,321.9 773.6,321.4C775.3,321.0 776.2,321.6 777.8,323.3C779.5,325.0 781.8,329.4 783.5,331.7C785.1,334.1 786.4,336.2 787.7,337.4C789.0,338.6 789.8,339.1 791.2,338.8C792.7,338.4 794.6,336.2 796.2,335.3C797.7,334.3 799.1,333.1 800.4,333.1C801.8,333.2 802.9,333.4 804.2,335.4C805.6,337.4 807.1,341.5 808.5,345.3C809.9,349.0 811.3,354.0 812.7,358.0C814.1,362.0 815.5,366.3 816.9,369.2C818.3,372.2 819.7,374.3 821.2,375.6C822.6,376.9 823.7,377.2 825.4,377.0C827.0,376.8 828.9,375.7 831.0,374.2C833.1,372.6 835.7,370.2 838.1,367.8C840.4,365.5 843.4,361.6 845.1,360.1C846.9,358.5 847.5,358.5 848.7,358.7C849.8,358.8 850.9,359.2 852.2,360.8C853.5,362.3 854.8,365.6 856.4,367.8C858.1,370.1 860.4,372.9 862.1,374.2C863.7,375.5 864.6,375.7 866.3,375.6C867.9,375.5 870.3,374.8 871.9,373.5C873.6,372.2 874.8,370.6 876.2,367.8C877.6,365.0 879.0,360.3 880.4,356.5C881.8,352.8 883.2,347.8 884.6,345.3C886.0,342.7 887.7,341.9 888.9,341.0C890.0,340.2 890.5,339.6 891.7,340.3C892.9,341.0 894.5,342.6 895.9,345.3C897.3,348.0 898.7,353.0 900.1,356.5C901.6,360.1 903.0,363.8 904.4,366.4C905.8,369.0 907.2,371.0 908.6,372.1C910.0,373.1 911.2,372.8 912.8,372.8C914.5,372.8 916.8,371.7 918.5,372.1C920.1,372.4 921.3,373.2 922.7,374.9C924.1,376.5 925.5,380.0 926.9,381.9C928.3,383.9 929.8,385.6 931.2,386.4C932.6,387.3 934.0,387.4 935.4,386.9C936.8,386.4 938.2,385.3 939.6,383.3C941.0,381.3 942.5,377.5 943.9,374.9C945.3,372.3 946.7,369.5 948.1,367.8C949.5,366.2 950.7,365.7 952.3,365.0C954.0,364.3 956.1,365.0 958.0,363.6C959.8,362.2 961.7,359.4 963.6,356.5C965.5,353.7 967.5,348.9 969.3,346.7C971.0,344.4 972.7,343.1 974.2,343.1C975.7,343.1 976.9,344.2 978.4,346.7C979.9,349.1 981.8,354.7 983.4,358.0C984.9,361.2 986.4,364.7 987.6,366.4C988.8,368.2 989.1,368.7 990.4,368.5C991.8,368.4 993.8,366.1 995.6,365.7C997.5,365.3 999.4,365.9 1001.3,366.1C1003.2,366.4 1005.0,367.7 1006.9,367.1C1008.8,366.6 1010.7,364.4 1012.6,362.9C1014.4,361.4 1016.6,358.9 1018.2,358.0C1019.9,357.0 1020.6,357.1 1022.4,357.2C1024.3,357.4 1027.4,358.7 1029.5,358.7C1031.6,358.7 1033.6,357.6 1035.1,357.2C1036.7,356.9 1037.2,356.5 1038.7,356.8C1040.1,357.2 1041.8,358.4 1043.6,359.4C1045.4,360.4 1047.6,362.1 1049.2,362.9C1050.9,363.6 1052.1,363.9 1053.5,363.9C1054.9,363.9 1056.1,363.9 1057.7,362.9C1059.3,361.9 1061.5,359.6 1063.3,358.0C1065.2,356.3 1067.1,354.1 1069.0,353.0C1070.9,351.9 1072.7,351.9 1074.6,351.3C1076.5,350.7 1078.7,349.8 1080.3,349.5C1081.8,349.1 1082.4,348.7 1083.8,349.2C1085.2,349.7 1087.1,351.4 1088.7,352.3C1090.4,353.2 1092.0,354.3 1093.7,354.4C1095.3,354.5 1096.8,353.6 1098.6,353.0C1100.4,352.5 1102.4,351.5 1104.2,351.2C1106.1,350.9 1107.8,350.8 1109.9,351.2C1112.0,351.6 1114.6,352.8 1116.9,353.4C1119.3,354.1 1121.6,354.5 1124.0,354.9C1126.3,355.3 1128.7,355.8 1131.0,355.8C1133.4,355.9 1135.7,355.1 1138.1,355.1C1140.4,355.2 1142.8,355.9 1145.1,356.3C1147.5,356.6 1149.8,357.3 1152.2,357.2C1154.6,357.2 1156.9,355.8 1159.3,355.8C1161.6,355.8 1164.2,356.2 1166.3,357.2C1168.4,358.3 1170.1,360.0 1171.9,362.2C1173.8,364.4 1176.2,369.0 1177.6,370.6C1178.9,372.3 1178.9,370.9 1180.0,372.1C1181.1,373.2 1182.6,376.1 1184.2,377.7C1185.9,379.3 1187.8,381.0 1189.9,381.9C1192.0,382.9 1194.6,383.4 1196.9,383.3C1199.3,383.3 1201.6,382.2 1204.0,381.7C1206.3,381.1 1208.7,380.2 1211.0,379.8C1213.4,379.4 1216.0,379.6 1218.1,379.1C1220.2,378.6 1221.8,377.9 1223.7,377.0C1225.6,376.1 1227.2,374.9 1229.4,373.5C1231.5,372.1 1234.1,370.3 1236.4,368.5C1238.8,366.8 1241.4,365.1 1243.5,362.9C1245.6,360.7 1247.2,357.4 1249.1,355.1C1251.0,352.9 1253.1,350.6 1254.8,349.5C1256.4,348.4 1257.6,348.2 1259.0,348.4C1260.4,348.5 1261.6,348.6 1263.2,350.2C1264.9,351.8 1267.0,355.4 1268.9,358.0C1270.7,360.5 1272.6,363.1 1274.5,365.7C1276.4,368.3 1278.3,370.5 1280.1,373.5C1282.0,376.4 1283.9,380.3 1285.8,383.3C1287.7,386.4 1289.6,389.5 1291.4,391.8C1293.3,394.1 1295.0,395.1 1297.0,397.0C1298.9,398.9 1301.2,401.4 1303.3,403.3C1305.4,405.2 1307.3,407.0 1309.7,408.4C1312.0,409.8 1314.7,410.8 1317.3,411.6C1319.8,412.3 1322.6,412.8 1324.9,412.8C1327.2,412.9 1328.9,412.2 1331.2,411.8C1333.6,411.5 1336.3,410.9 1338.9,410.9C1341.4,411.0 1344.1,411.3 1346.5,412.2C1348.8,413.2 1350.7,414.8 1352.8,416.7C1354.9,418.6 1356.8,421.4 1359.2,423.6C1361.5,425.9 1364.2,427.9 1366.8,430.0C1369.3,432.1 1371.9,434.1 1374.4,436.3C1376.9,438.6 1379.5,441.1 1382.0,443.3C1384.6,445.5 1387.3,447.1 1389.6,449.7C1392.0,452.2 1393.9,454.9 1396.0,458.5C1398.1,462.1 1400.8,467.9 1402.3,471.2C1403.8,474.6 1403.8,476.2 1404.9,478.5C1405.9,480.9 1407.3,483.7 1408.7,485.5C1410.2,487.3 1412.6,488.8 1413.4,489.4" stroke="#009600"/>
<path d="M40.7,334.3C42.9,335.4 49.5,338.3 54.1,340.9C58.7,343.5 64.2,348.1 68.2,350.1C72.2,352.0 74.8,352.8 78.1,352.5C81.4,352.1 84.8,349.2 88.0,348.0C91.1,346.7 94.5,345.0 97.1,344.9C99.7,344.7 101.2,345.3 103.5,347.2C105.7,349.2 107.9,353.0 110.5,356.4C113.1,359.8 116.7,365.4 119.0,367.7C121.3,370.1 122.3,370.6 124.2,370.5C126.1,370.5 127.8,369.8 130.3,367.4C132.7,365.1 135.7,360.1 138.7,356.4C141.8,352.7 145.5,347.7 148.6,345.1C151.7,342.6 154.5,341.7 157.1,341.2C159.7,340.7 161.5,340.9 164.1,342.3C166.7,343.7 170.1,347.8 172.6,349.4C175.0,351.0 176.6,351.9 178.9,351.9C181.3,352.0 184.6,350.1 186.7,349.6C188.8,349.2 190.0,348.8 191.6,348.9C193.3,349.1 194.6,349.1 196.6,350.8C198.6,352.5 201.3,355.2 203.6,359.2C206.0,363.2 208.3,368.6 210.7,374.8C213.0,380.9 216.0,391.7 217.7,395.9C219.5,400.1 220.1,398.2 221.2,400.0C222.4,401.8 223.6,405.1 224.8,406.8C225.9,408.5 227.2,409.9 228.3,410.2C229.4,410.4 230.4,409.3 231.5,408.2C232.7,407.1 233.5,406.5 235.3,403.5C237.2,400.5 240.1,394.8 242.7,390.3C245.3,385.7 248.1,380.9 251.2,376.2C254.2,371.5 257.7,366.5 261.0,362.1C264.3,357.6 267.6,353.1 270.9,349.4C274.2,345.6 278.0,341.7 280.8,339.5C283.6,337.3 285.9,336.9 287.8,336.4C289.7,335.9 290.4,335.9 292.1,336.7C293.7,337.4 295.6,338.6 297.7,340.9C299.8,343.3 302.5,348.1 304.8,350.8C307.0,353.5 309.0,356.7 311.1,357.1C313.2,357.6 315.4,355.6 317.4,353.6C319.4,351.6 321.2,347.1 323.1,345.1C325.0,343.2 327.1,342.1 328.7,341.9C330.4,341.7 331.3,342.0 333.0,343.7C334.6,345.4 336.7,348.9 338.6,352.2C340.5,355.5 342.4,358.8 344.2,363.5C346.1,368.2 348.0,374.3 349.9,380.4C351.8,386.5 353.6,394.1 355.5,400.0C357.4,405.9 359.3,411.2 361.2,415.5C363.1,419.9 365.2,423.9 366.8,426.1C368.5,428.3 369.6,428.7 371.0,428.6C372.5,428.5 373.9,427.6 375.3,425.4C376.7,423.2 378.0,419.7 379.5,415.5C381.0,411.3 382.8,405.1 384.4,400.0C386.1,394.9 387.4,389.5 389.4,384.6C391.4,379.7 394.1,375.0 396.4,370.5C398.8,366.1 401.1,361.6 403.5,357.8C405.8,354.1 408.2,350.4 410.5,348.0C412.9,345.5 415.7,343.8 417.6,343.0C419.5,342.2 420.5,342.5 421.8,343.0C423.2,343.5 424.1,344.2 425.6,346.0C427.2,347.8 429.4,350.3 431.3,353.7C433.2,357.1 435.0,361.0 436.9,366.4C438.8,371.8 440.9,380.1 442.6,386.2C444.2,392.3 445.4,397.7 446.8,403.1C448.2,408.5 449.1,414.4 451.0,418.3C452.9,422.2 456.0,426.0 458.1,426.5C460.2,427.0 461.8,424.2 463.7,421.2C465.6,418.1 467.5,412.2 469.4,408.5C471.2,404.7 473.1,401.2 475.0,398.9C476.9,396.6 479.0,395.2 480.6,394.6C482.3,394.0 483.2,393.9 484.9,395.3C486.5,396.7 488.9,400.0 490.5,403.1C492.2,406.2 493.1,410.0 494.8,414.1C496.4,418.2 498.7,424.6 500.4,427.5C502.0,430.4 503.2,431.6 504.6,431.5C506.0,431.3 507.0,429.9 508.9,426.8C510.7,423.7 513.6,416.6 515.9,412.7C518.3,408.8 520.8,405.5 523.0,403.5C525.1,401.5 526.7,400.1 528.6,400.7C530.5,401.3 532.4,405.0 534.2,407.1C536.1,409.1 538.2,412.9 539.9,413.1C541.5,413.4 542.7,411.5 544.1,408.5C545.5,405.4 546.9,400.9 548.3,394.6C549.8,388.3 551.2,378.2 552.6,370.6C554.0,363.1 555.4,355.6 556.8,349.5C558.2,343.4 559.6,337.9 561.0,334.0C562.5,330.1 564.1,327.7 565.3,326.2C566.5,324.8 566.9,324.6 568.1,325.2C569.3,325.8 570.7,326.6 572.3,329.7C574.0,332.8 576.1,340.3 578.0,343.9C579.8,347.4 581.7,350.4 583.6,350.9C585.5,351.4 586.9,348.8 589.3,346.7C591.6,344.6 595.1,342.0 597.7,338.2C600.3,334.4 602.7,327.7 604.8,324.1C606.9,320.5 608.9,317.3 610.4,316.3C611.9,315.4 612.4,316.8 613.5,318.3C614.6,319.8 615.8,322.3 617.1,325.4C618.3,328.4 619.9,333.4 621.3,336.7C622.7,340.0 624.0,343.2 625.5,345.1C627.0,347.1 628.8,348.4 630.5,348.2C632.1,348.1 633.6,345.6 635.4,344.4C637.2,343.3 639.4,341.4 641.0,341.2C642.7,340.9 643.6,342.2 645.3,343.0C646.9,343.9 648.8,345.7 650.9,346.3C653.0,346.9 655.6,346.0 658.0,346.5C660.3,347.1 662.9,348.0 665.0,349.4C667.1,350.8 668.8,352.2 670.6,355.0C672.5,357.8 674.4,362.1 676.3,366.3C678.2,370.5 679.8,376.2 681.9,380.4C684.0,384.6 686.6,388.9 689.0,391.7C691.3,394.5 694.2,396.5 696.0,397.3C697.9,398.1 698.6,397.6 700.3,396.6C701.9,395.7 704.0,393.7 705.9,391.7C707.8,389.7 709.7,386.5 711.6,384.6C713.4,382.8 715.5,380.9 717.2,380.7C718.8,380.4 720.0,381.4 721.4,383.2C722.8,385.0 724.2,388.2 725.7,391.7C727.1,395.2 728.6,401.5 729.9,404.1C731.2,406.7 732.2,407.2 733.4,407.2C734.6,407.2 735.4,407.9 736.9,404.1C738.5,400.3 740.7,390.2 742.6,384.6C744.5,379.0 745.9,374.5 748.2,370.5C750.6,366.5 754.1,364.2 756.7,360.6C759.3,357.1 761.6,352.2 763.7,349.4C765.9,346.5 767.7,344.4 769.4,343.7C771.0,343.0 772.0,343.0 773.6,345.1C775.3,347.2 777.4,352.2 779.3,356.4C781.1,360.6 783.0,366.3 784.9,370.5C786.8,374.8 788.7,379.2 790.5,381.8C792.4,384.4 794.1,385.4 796.2,386.0C798.3,386.6 801.7,385.5 803.2,385.3C804.8,385.1 804.1,385.7 805.6,384.8C807.2,383.8 810.3,381.7 812.7,379.8C815.0,377.9 817.6,375.0 819.7,373.5C821.9,371.9 823.7,370.9 825.4,370.6C827.0,370.4 828.0,371.0 829.6,372.1C831.3,373.1 833.6,376.1 835.3,377.0C836.9,377.9 838.1,378.3 839.5,377.7C840.9,377.1 842.3,376.1 843.7,373.5C845.1,370.9 846.5,366.2 848.0,362.2C849.4,358.2 850.8,353.1 852.2,349.5C853.6,345.8 855.0,342.5 856.4,340.3C857.8,338.2 859.5,337.1 860.6,336.5C861.8,335.9 862.3,335.8 863.5,336.8C864.6,337.8 866.3,339.9 867.7,342.4C869.1,345.0 870.3,348.8 871.9,352.3C873.6,355.8 875.7,360.8 877.6,363.6C879.5,366.4 881.3,367.6 883.2,369.2C885.1,370.9 887.0,372.2 888.9,373.5C890.7,374.8 892.9,376.4 894.5,377.0C896.1,377.6 897.3,377.6 898.7,377.0C900.1,376.4 901.6,375.1 903.0,373.5C904.4,371.8 905.8,368.7 907.2,367.1C908.6,365.5 910.0,364.3 911.4,363.9C912.8,363.4 914.0,363.6 915.7,364.3C917.3,365.0 919.4,366.7 921.3,367.8C923.2,369.0 925.1,370.2 926.9,371.4C928.8,372.5 930.7,373.6 932.6,374.9C934.5,376.2 936.3,377.5 938.2,379.1C940.1,380.8 942.0,382.9 943.9,384.8C945.7,386.6 947.6,388.6 949.5,390.4C951.4,392.2 953.5,394.3 955.1,395.3C956.8,396.3 957.7,396.7 959.4,396.5C961.0,396.2 962.9,394.7 965.0,393.9C967.1,393.1 969.7,392.1 972.1,391.5C974.4,391.0 977.0,390.5 979.1,390.7C981.2,390.8 982.9,391.7 984.8,392.5C986.6,393.3 988.9,394.9 990.4,395.3C991.9,395.8 992.2,395.9 993.5,395.3C994.9,394.7 996.7,393.6 998.5,391.8C1000.2,390.0 1002.2,387.6 1004.1,384.8C1006.0,381.9 1007.9,378.1 1009.7,374.9C1011.6,371.7 1013.5,367.8 1015.4,365.7C1017.3,363.6 1018.9,363.0 1021.0,362.2C1023.1,361.4 1025.7,361.4 1028.1,361.1C1030.4,360.7 1033.3,359.9 1035.1,360.1C1037.0,360.3 1037.5,361.2 1039.4,362.2C1041.2,363.1 1044.3,364.5 1046.4,365.7C1048.5,366.9 1050.2,368.1 1052.1,369.2C1053.9,370.4 1055.8,371.8 1057.7,372.8C1059.6,373.7 1061.2,374.4 1063.3,374.9C1065.5,375.4 1068.3,376.2 1070.4,375.9C1072.5,375.5 1073.9,374.2 1076.0,372.8C1078.2,371.3 1080.7,368.8 1083.1,367.1C1085.4,365.5 1088.0,364.1 1090.1,362.9C1092.3,361.6 1094.1,360.2 1095.8,359.6C1097.4,359.1 1098.6,358.9 1100.0,359.4C1101.4,359.8 1102.6,361.0 1104.2,362.2C1105.9,363.4 1108.0,365.4 1109.9,366.4C1111.8,367.4 1113.4,368.0 1115.5,368.3C1117.6,368.5 1120.2,367.9 1122.6,367.8C1124.9,367.8 1127.3,367.9 1129.6,367.8C1132.0,367.7 1134.6,367.8 1136.7,367.1C1138.8,366.4 1140.4,365.0 1142.3,363.6C1144.2,362.2 1146.1,360.0 1148.0,358.7C1149.8,357.3 1151.7,356.1 1153.6,355.6C1155.5,355.0 1157.1,355.3 1159.3,355.4C1161.4,355.6 1164.0,356.0 1166.3,356.5C1168.7,357.1 1171.1,357.7 1173.4,358.7C1175.6,359.6 1178.0,361.3 1180.0,362.5C1182.0,363.6 1183.5,364.8 1185.6,365.7C1187.8,366.6 1190.3,367.4 1192.7,367.8C1195.0,368.2 1197.6,368.2 1199.7,368.1C1201.9,368.1 1203.5,367.9 1205.4,367.5C1207.3,367.2 1208.9,366.3 1211.0,366.1C1213.1,366.0 1215.7,366.4 1218.1,366.8C1220.4,367.2 1223.3,368.3 1225.1,368.5C1227.0,368.8 1227.7,369.2 1229.4,368.5C1231.0,367.8 1233.1,365.7 1235.0,364.3C1236.9,362.9 1238.5,361.2 1240.6,360.1C1242.8,358.9 1245.6,358.1 1247.7,357.2C1249.8,356.4 1251.6,355.6 1253.3,355.1C1255.1,354.7 1256.6,354.2 1258.3,354.4C1259.9,354.7 1261.5,355.1 1263.2,356.5C1265.0,358.0 1267.0,360.9 1268.9,362.9C1270.7,364.9 1272.6,366.9 1274.5,368.5C1276.4,370.2 1278.0,371.5 1280.1,372.8C1282.3,374.1 1284.8,375.2 1287.2,376.3C1289.5,377.3 1291.9,377.9 1294.2,379.1C1296.6,380.3 1299.2,381.7 1301.3,383.3C1303.4,385.0 1305.1,386.9 1306.9,389.0C1308.8,391.1 1310.4,393.3 1312.6,396.0C1314.7,398.7 1317.6,402.7 1319.8,405.2C1322.1,407.7 1324.3,409.8 1326.2,410.9C1328.1,412.1 1329.1,412.2 1331.2,412.2C1333.4,412.2 1336.3,411.3 1338.9,410.9C1341.4,410.6 1343.9,410.2 1346.5,410.1C1349.0,409.9 1351.5,409.7 1354.1,410.1C1356.6,410.4 1359.2,411.0 1361.7,412.2C1364.2,413.4 1366.8,415.1 1369.3,417.3C1371.9,419.5 1374.6,422.7 1376.9,425.5C1379.3,428.4 1381.2,431.3 1383.3,434.4C1385.4,437.6 1387.5,440.8 1389.6,444.6C1391.7,448.4 1394.1,453.3 1396.0,457.3C1397.9,461.3 1399.6,465.2 1401.1,468.7C1402.5,472.2 1403.6,475.9 1404.9,478.5C1406.1,481.2 1407.3,483.1 1408.7,484.7C1410.2,486.4 1412.6,487.7 1413.4,488.3" stroke="#005ac8"/>
<path d="M40.7,331.3C42.9,332.1 49.5,333.4 54.1,336.0C58.7,338.5 64.0,343.5 68.2,346.5C72.4,349.6 76.4,352.7 79.5,354.3C82.5,355.9 83.7,356.4 86.5,356.4C89.4,356.4 92.9,355.1 96.4,354.3C99.9,353.5 104.4,351.8 107.7,351.5C111.0,351.2 113.1,352.1 116.2,352.5C119.2,352.8 122.3,353.8 126.0,353.6C129.8,353.4 134.7,352.7 138.7,351.5C142.7,350.3 146.5,348.3 150.0,346.5C153.5,344.8 157.3,342.2 159.9,341.2C162.5,340.2 163.2,340.1 165.5,340.6C167.9,341.2 170.9,342.9 174.0,344.4C177.0,346.0 181.3,348.4 183.9,350.1C186.5,351.7 187.4,352.1 189.5,354.3C191.6,356.5 194.0,359.8 196.6,363.5C199.1,367.1 202.2,371.9 205.0,376.2C207.8,380.4 211.1,384.9 213.5,388.9C215.8,392.8 217.6,396.9 219.1,400.0C220.7,403.1 221.5,405.7 222.7,407.6C223.8,409.5 225.2,410.6 226.2,411.4C227.2,412.2 227.8,412.6 228.7,412.4C229.7,412.3 230.6,411.6 231.8,410.6C233.0,409.5 234.9,407.8 236.1,406.1C237.2,404.3 237.1,402.4 238.5,400.0C239.8,397.6 242.0,393.9 244.1,391.7C246.2,389.5 248.8,388.2 251.2,386.7C253.5,385.3 255.9,385.4 258.2,383.2C260.6,381.0 262.9,377.1 265.3,373.3C267.6,369.6 270.0,364.1 272.3,360.6C274.7,357.2 277.0,354.7 279.4,352.9C281.7,351.1 283.8,350.8 286.4,350.1C289.0,349.4 292.1,348.7 294.9,348.7C297.7,348.6 301.0,349.8 303.3,349.6C305.7,349.5 307.1,348.8 309.0,348.0C310.9,347.2 313.0,345.5 314.6,344.9C316.3,344.2 317.4,343.8 318.9,344.0C320.3,344.2 321.4,344.8 323.1,345.8C324.7,346.9 326.6,348.7 328.7,350.1C330.8,351.5 333.4,352.8 335.8,354.3C338.1,355.8 340.7,356.8 342.8,359.2C345.0,361.7 346.8,365.1 348.5,369.1C350.1,373.1 351.4,378.1 352.7,383.2C354.0,388.4 354.8,394.1 356.2,400.0C357.6,405.9 359.7,412.8 361.2,418.3C362.7,423.9 364.0,430.0 365.1,433.1C366.2,436.3 367.2,436.9 367.9,437.4C368.7,437.9 368.9,437.0 369.5,436.1C370.1,435.2 370.4,434.9 371.3,431.7C372.3,428.5 373.9,422.2 375.3,416.9C376.6,411.6 378.1,405.9 379.5,400.0C380.9,394.1 382.3,387.4 383.7,381.8C385.1,376.2 386.6,369.7 388.0,366.3C389.4,362.9 390.8,362.1 392.2,361.4C393.6,360.6 394.8,361.0 396.4,362.1C398.1,363.1 400.2,365.9 402.1,367.7C404.0,369.5 405.6,371.6 407.7,372.6C409.8,373.7 412.7,373.8 414.8,374.0C416.8,374.3 417.7,375.4 420.0,374.2C422.3,372.9 425.6,370.1 428.5,366.4C431.3,362.8 434.1,357.7 436.9,352.3C439.7,346.9 443.0,338.1 445.4,334.0C447.7,329.9 449.5,328.9 451.0,327.6C452.6,326.4 453.1,326.3 454.6,326.6C456.0,327.0 457.7,327.3 459.5,329.7C461.3,332.1 463.3,335.6 465.1,341.0C467.0,346.4 468.9,354.2 470.8,362.2C472.7,370.2 474.8,381.7 476.4,389.0C478.1,396.3 479.1,401.6 480.6,405.9C482.2,410.2 484.1,413.9 485.6,414.8C487.1,415.7 488.3,413.9 489.8,411.3C491.3,408.6 493.0,401.6 494.8,398.9C496.5,396.1 498.7,395.4 500.4,394.6C502.0,393.9 503.2,394.2 504.6,394.3C506.0,394.5 507.2,396.0 508.9,395.3C510.5,394.7 512.4,392.4 514.5,390.4C516.6,388.4 519.2,385.5 521.6,383.3C523.9,381.2 526.5,381.0 528.6,377.7C530.7,374.4 532.6,369.5 534.2,363.6C535.9,357.7 537.1,348.3 538.5,342.4C539.9,336.6 541.2,331.5 542.7,328.3C544.2,325.2 546.1,323.8 547.6,323.7C549.2,323.6 550.6,325.0 551.9,327.6C553.2,330.3 554.1,334.6 555.4,339.6C556.7,344.7 558.2,352.1 559.6,358.0C561.0,363.8 562.5,370.8 563.9,374.9C565.3,379.0 566.8,381.5 568.1,382.6C569.4,383.8 570.2,382.8 571.6,381.9C573.0,381.1 575.0,378.5 576.6,377.7C578.1,376.9 579.1,376.5 580.8,377.0C582.4,377.5 584.6,378.5 586.4,380.5C588.3,382.5 590.2,385.5 592.1,389.0C594.0,392.5 595.6,397.7 597.7,401.7C599.8,405.6 602.7,411.0 604.8,412.7C606.8,414.4 608.4,412.6 610.0,411.9C611.6,411.1 612.8,410.6 614.2,408.3C615.6,406.1 616.8,402.9 618.5,398.5C620.1,394.0 622.0,387.6 624.1,381.8C626.2,376.0 628.8,368.3 631.2,363.5C633.5,358.7 636.2,355.1 638.2,352.9C640.2,350.7 641.5,350.1 643.1,350.4C644.8,350.6 646.1,352.1 648.1,354.3C650.1,356.5 652.8,361.0 655.1,363.5C657.5,365.9 659.8,367.9 662.2,369.1C664.5,370.3 666.9,370.8 669.2,370.5C671.6,370.3 674.2,368.5 676.3,367.7C678.4,366.9 680.1,365.7 681.9,365.6C683.8,365.5 685.2,365.8 687.6,367.0C689.9,368.2 693.5,370.6 696.0,372.6C698.6,374.6 701.0,377.3 703.1,379.0C705.2,380.6 706.9,382.0 708.7,382.5C710.6,383.0 712.7,382.0 714.4,382.1C716.0,382.2 717.0,381.6 718.6,383.2C720.2,384.8 722.6,389.1 724.2,391.7C725.9,394.2 726.9,396.4 728.5,398.5C730.0,400.5 731.8,404.1 733.4,404.1C735.1,404.1 737.1,401.2 738.3,398.5C739.6,395.7 739.8,391.4 741.2,387.4C742.6,383.5 744.9,378.3 746.8,374.8C748.7,371.2 750.3,368.9 752.5,366.3C754.6,363.7 757.2,361.8 759.5,359.2C761.9,356.7 764.4,352.9 766.6,350.8C768.7,348.7 770.6,347.3 772.2,346.5C773.8,345.8 774.8,345.3 776.4,346.3C778.1,347.2 780.0,349.6 782.1,352.2C784.2,354.8 787.0,359.4 789.1,362.1C791.2,364.8 793.1,367.2 794.8,368.4C796.4,369.6 797.2,369.4 799.0,369.1C800.8,368.8 803.4,367.5 805.6,366.4C807.9,365.4 810.6,364.3 812.7,362.9C814.8,361.5 816.7,359.6 818.3,358.0C820.0,356.3 821.3,354.0 822.6,353.0C823.9,352.1 824.9,351.7 826.1,352.3C827.3,352.9 828.1,354.2 829.6,356.5C831.1,358.9 833.4,363.7 835.3,366.4C837.1,369.1 839.3,371.5 840.9,372.8C842.5,374.0 843.5,374.3 845.1,373.8C846.8,373.2 848.9,371.0 850.8,369.2C852.7,367.4 854.5,364.7 856.4,362.9C858.3,361.1 860.4,359.6 862.1,358.7C863.7,357.7 864.9,357.2 866.3,357.2C867.7,357.2 868.9,357.4 870.5,358.7C872.2,360.0 874.3,363.2 876.2,365.0C878.0,366.8 879.9,368.1 881.8,369.2C883.7,370.4 885.6,371.8 887.4,372.1C889.3,372.3 891.2,371.2 893.1,370.6C895.0,370.1 897.1,368.7 898.7,368.5C900.4,368.4 901.6,368.9 903.0,369.9C904.4,371.0 905.8,373.6 907.2,374.9C908.6,376.2 910.0,377.5 911.4,377.7C912.8,377.9 914.2,377.5 915.7,376.3C917.1,375.1 918.5,372.5 919.9,370.6C921.3,368.8 922.7,366.4 924.1,365.0C925.5,363.6 926.9,362.3 928.3,362.2C929.8,362.1 931.2,363.4 932.6,364.3C934.0,365.2 935.2,366.9 936.8,367.8C938.5,368.8 940.6,369.6 942.5,369.9C944.3,370.3 946.2,369.8 948.1,369.9C950.0,370.1 951.9,370.3 953.7,370.6C955.6,371.0 957.7,372.3 959.4,372.1C961.0,371.8 962.2,370.4 963.6,369.2C965.0,368.1 966.5,365.9 967.8,365.0C969.1,364.1 970.1,363.6 971.4,363.9C972.7,364.1 974.1,364.8 975.6,366.4C977.1,368.0 979.0,371.6 980.5,373.5C982.1,375.4 983.4,376.9 984.8,377.7C986.2,378.5 987.4,379.1 989.0,378.4C990.6,377.7 992.7,374.5 994.2,373.5C995.8,372.4 997.1,371.8 998.5,372.1C999.9,372.3 1001.0,373.8 1002.7,374.9C1004.3,375.9 1006.5,378.4 1008.3,378.4C1010.2,378.4 1012.1,376.3 1014.0,374.9C1015.9,373.5 1017.7,371.1 1019.6,369.9C1021.5,368.8 1023.1,368.3 1025.3,367.8C1027.4,367.3 1030.2,367.0 1032.3,366.8C1034.4,366.7 1036.1,366.7 1038.0,367.1C1039.8,367.5 1041.5,368.2 1043.6,369.2C1045.7,370.3 1048.3,371.6 1050.6,373.5C1053.0,375.4 1055.6,377.9 1057.7,380.5C1059.8,383.1 1061.5,386.6 1063.3,389.0C1065.2,391.3 1067.3,393.4 1069.0,394.6C1070.6,395.8 1071.8,396.3 1073.2,396.3C1074.6,396.3 1076.0,395.6 1077.4,394.6C1078.9,393.6 1080.3,391.6 1081.7,390.4C1083.1,389.2 1084.3,387.8 1085.9,387.3C1087.6,386.8 1089.7,387.1 1091.6,387.3C1093.4,387.5 1095.3,388.2 1097.2,388.3C1099.1,388.4 1101.0,388.1 1102.8,387.9C1104.7,387.6 1106.6,386.8 1108.5,386.9C1110.4,386.9 1112.2,387.8 1114.1,388.3C1116.0,388.7 1117.9,390.0 1119.8,389.7C1121.6,389.3 1123.5,387.3 1125.4,386.2C1127.3,385.1 1129.2,383.5 1131.0,383.1C1132.9,382.6 1134.8,383.4 1136.7,383.3C1138.6,383.3 1140.4,383.6 1142.3,382.6C1144.2,381.7 1146.1,379.9 1148.0,377.7C1149.8,375.5 1151.7,372.3 1153.6,369.2C1155.5,366.2 1157.4,362.2 1159.3,359.4C1161.1,356.5 1163.0,354.1 1164.9,352.3C1166.8,350.6 1168.9,349.5 1170.5,348.8C1172.2,348.1 1173.2,348.0 1174.8,348.1C1176.3,348.2 1178.2,348.3 1180.0,349.5C1181.8,350.7 1183.5,352.8 1185.6,355.1C1187.8,357.5 1190.6,361.5 1192.7,363.6C1194.8,365.7 1196.5,367.0 1198.3,367.8C1200.2,368.7 1202.1,368.8 1204.0,368.5C1205.9,368.3 1207.7,367.0 1209.6,366.4C1211.5,365.9 1213.1,365.3 1215.3,365.3C1217.4,365.3 1219.7,366.0 1222.3,366.4C1224.9,366.8 1228.2,367.2 1230.8,367.8C1233.4,368.4 1235.7,369.4 1237.8,369.9C1239.9,370.5 1241.8,370.9 1243.5,370.9C1245.1,370.9 1246.1,371.0 1247.7,369.9C1249.3,368.8 1251.7,365.8 1253.3,364.3C1255.0,362.8 1256.3,361.6 1257.6,360.8C1258.9,360.0 1259.7,359.7 1261.1,359.6C1262.5,359.6 1264.5,360.2 1266.0,360.5C1267.6,360.8 1268.9,361.4 1270.3,361.5C1271.7,361.5 1273.1,360.9 1274.5,360.8C1275.9,360.7 1277.3,360.3 1278.7,360.8C1280.1,361.2 1281.3,362.4 1283.0,363.6C1284.6,364.8 1286.7,366.8 1288.6,367.8C1290.5,368.9 1292.4,369.5 1294.2,369.9C1296.1,370.4 1298.0,370.2 1299.9,370.6C1301.8,371.1 1303.6,371.8 1305.5,372.8C1307.4,373.7 1309.1,375.0 1311.2,376.3C1313.3,377.6 1315.9,378.9 1318.2,380.5C1320.6,382.2 1322.9,384.4 1325.3,386.2C1327.6,387.9 1330.1,390.0 1332.3,391.1C1334.6,392.2 1336.5,392.1 1338.9,392.8C1341.2,393.5 1343.9,394.5 1346.5,395.3C1349.0,396.1 1351.5,397.3 1354.1,397.6C1356.6,398.0 1359.2,397.1 1361.7,397.4C1364.2,397.6 1366.8,398.5 1369.3,399.1C1371.9,399.8 1374.6,400.7 1376.9,401.2C1379.3,401.7 1381.4,401.5 1383.3,402.1C1385.2,402.6 1386.7,403.2 1388.4,404.6C1390.1,406.0 1391.7,408.1 1393.4,410.3C1395.1,412.5 1396.8,415.4 1398.5,417.9C1400.2,420.5 1401.9,423.4 1403.6,425.5C1405.3,427.7 1407.0,429.4 1408.7,430.6C1410.3,431.9 1412.7,432.7 1413.5,433.2" stroke="#963c00"/>
<path d="M41.1,233.8C42.4,234.3 46.2,235.8 49.0,236.9C51.8,238.0 54.8,239.3 58.0,240.3C61.2,241.3 65.0,242.5 68.2,243.1C71.4,243.8 73.8,243.7 77.2,244.2C80.6,244.8 85.3,245.3 88.5,246.2C91.7,247.0 93.6,248.0 96.4,249.3C99.2,250.6 102.8,252.7 105.4,253.8C108.0,254.9 110.3,255.5 112.2,255.9C114.1,256.2 115.2,256.2 116.7,256.1C118.2,255.9 118.9,255.7 121.2,255.0C123.5,254.2 126.8,252.8 130.2,251.6C133.6,250.4 137.7,249.0 141.5,247.9C145.3,246.7 150.4,245.4 152.8,244.8C155.1,244.2 153.9,244.6 155.5,244.4C157.1,244.2 159.7,243.6 162.6,243.6C165.4,243.6 169.4,244.4 172.4,244.4C175.5,244.4 178.6,243.2 180.9,243.3C183.3,243.3 184.7,243.5 186.5,244.7C188.4,245.9 190.1,247.4 192.2,250.3C194.3,253.3 196.7,257.3 199.2,262.3C201.8,267.4 204.9,274.3 207.7,280.6C210.5,287.0 213.9,295.8 216.2,300.4C218.4,305.0 219.7,306.6 221.1,308.2C222.5,309.8 223.3,310.2 224.6,310.0C225.9,309.8 227.2,309.0 228.9,306.7C230.5,304.4 232.4,300.3 234.5,296.2C236.6,292.0 239.2,286.4 241.6,282.1C243.9,277.7 246.3,273.2 248.6,270.1C251.0,266.9 253.3,264.7 255.7,263.0C258.0,261.4 260.1,261.4 262.7,260.2C265.3,259.0 268.7,257.0 271.2,256.0C273.6,255.0 275.6,254.3 277.5,254.3C279.4,254.3 280.7,254.7 282.5,256.0C284.2,257.2 286.2,258.9 288.1,261.6C290.0,264.3 291.9,268.1 293.7,272.2C295.6,276.3 297.5,281.1 299.4,286.3C301.3,291.5 303.4,298.5 305.0,303.2C306.7,307.9 307.7,311.3 309.3,314.5C310.9,317.7 312.8,320.6 314.6,322.6C316.5,324.5 318.4,326.1 320.3,326.1C322.1,326.1 324.0,324.8 325.9,322.6C327.8,320.3 329.7,315.5 331.6,312.7C333.4,309.9 335.3,307.3 337.2,305.6C339.1,304.0 341.0,302.8 342.8,302.8C344.7,302.8 346.4,304.0 348.5,305.6C350.6,307.3 353.2,310.5 355.5,312.7C357.9,314.9 360.5,316.7 362.6,319.0C364.7,321.4 366.3,323.6 368.2,326.8C370.1,330.0 372.0,333.6 373.9,338.1C375.7,342.5 377.6,348.2 379.5,353.6C381.4,359.0 383.5,366.3 385.1,370.5C386.8,374.8 388.1,377.1 389.4,379.0C390.7,380.9 391.7,381.8 392.9,381.8C394.1,381.8 395.1,380.6 396.4,379.0C397.7,377.3 399.1,373.5 400.7,371.9C402.2,370.3 404.0,369.3 405.6,369.4C407.2,369.5 409.0,370.3 410.5,372.6C412.1,374.9 413.4,379.3 414.8,383.2C416.2,387.1 417.5,391.5 419.0,395.9C420.5,400.4 422.2,407.0 423.5,409.9C424.9,412.7 425.8,413.4 427.1,413.1C428.3,412.9 429.6,411.5 431.3,408.5C432.9,405.4 434.8,398.2 436.9,394.6C439.0,391.1 441.9,387.8 444.0,387.3C446.1,386.8 447.7,389.6 449.6,391.8C451.5,394.0 453.1,397.0 455.3,400.7C457.4,404.4 460.0,408.3 462.3,414.1C464.7,419.9 467.0,428.2 469.4,435.3C471.7,442.3 474.1,449.8 476.4,456.4C478.8,463.0 481.1,469.8 483.5,474.8C485.8,479.7 488.2,483.4 490.5,486.0C492.9,488.7 496.4,489.8 497.6,490.6" stroke="#007878"/>
</g>
<g font-family="Liberation Sans, sans-serif">
<text x="38.4" y="570.75" font-size="12.6" fill="#2a2a2a" text-anchor="end" textLength="11.6" lengthAdjust="spacingAndGlyphs">55</text>
<text x="38.4" y="520.21" font-size="12.6" fill="#2a2a2a" text-anchor="end" textLength="11.6" lengthAdjust="spacingAndGlyphs">60</text>
<text x="38.4" y="469.67" font-size="12.6" fill="#2a2a2a" text-anchor="end" textLength="11.6" lengthAdjust="spacingAndGlyphs">65</text>
<text x="38.4" y="419.13" font-size="12.6" fill="#2a2a2a" text-anchor="end" textLength="11.6" lengthAdjust="spacingAndGlyphs">70</text>
<text x="38.4" y="368.59" font-size="12.6" fill="#2a2a2a" text-anchor="end" textLength="11.6" lengthAdjust="spacingAndGlyphs">75</text>
<text x="38.4" y="318.05" font-size="12.6" fill="#2a2a2a" text-anchor="end" textLength="11.6" lengthAdjust="spacingAndGlyphs">80</text>
<text x="38.4" y="267.51" font-size="12.6" fill="#2a2a2a" text-anchor="end" textLength="11.6" lengthAdjust="spacingAndGlyphs">85</text>
<text x="38.4" y="216.97" font-size="12.6" fill="#2a2a2a" text-anchor="end" textLength="11.6" lengthAdjust="spacingAndGlyphs">90</text>
<text x="38.4" y="166.43" font-size="12.6" fill="#2a2a2a" text-anchor="end" textLength="11.6" lengthAdjust="spacingAndGlyphs">95</text>
<text x="38.4" y="115.89" font-size="12.6" fill="#2a2a2a" text-anchor="end" textLength="17.6" lengthAdjust="spacingAndGlyphs">100</text>
<text x="40.9" y="632.6" font-size="12" fill="#2a2a2a" text-anchor="middle" textLength="11.7" lengthAdjust="spacingAndGlyphs">20</text>
<text x="121.5" y="632.6" font-size="12" fill="#2a2a2a" text-anchor="middle" textLength="11.7" lengthAdjust="spacingAndGlyphs">30</text>
<text x="178.70000000000002" y="632.6" font-size="12" fill="#2a2a2a" text-anchor="middle" textLength="11.7" lengthAdjust="spacingAndGlyphs">40</text>
<text x="223.0" y="632.6" font-size="12" fill="#2a2a2a" text-anchor="middle" textLength="11.7" lengthAdjust="spacingAndGlyphs">50</text>
<text x="259.29999999999995" y="632.6" font-size="12" fill="#2a2a2a" text-anchor="middle" textLength="11.7" lengthAdjust="spacingAndGlyphs">60</text>
<text x="289.9" y="632.6" font-size="12" fill="#2a2a2a" text-anchor="middle" textLength="11.7" lengthAdjust="spacingAndGlyphs">70</text>
<text x="316.4" y="632.6" font-size="12" fill="#2a2a2a" text-anchor="middle" textLength="11.7" lengthAdjust="spacingAndGlyphs">80</text>
<text x="339.9" y="632.6" font-size="12" fill="#2a2a2a" text-anchor="middle" textLength="11.7" lengthAdjust="spacingAndGlyphs">90</text>
<text x="360.79999999999995" y="632.6" font-size="12" fill="#2a2a2a" text-anchor="middle" textLength="17.9" lengthAdjust="spacingAndGlyphs">100</text>
<text x="498.59999999999997" y="632.6" font-size="12" fill="#2a2a2a" text-anchor="middle" textLength="17.9" lengthAdjust="spacingAndGlyphs">200</text>
<text x="579.1999999999999" y="632.6" font-size="12" fill="#2a2a2a" text-anchor="middle" textLength="17.9" lengthAdjust="spacingAndGlyphs">300</text>
<text x="636.3" y="632.6" font-size="12" fill="#2a2a2a" text-anchor="middle" textLength="17.9" lengthAdjust="spacingAndGlyphs">400</text>
<text x="680.6999999999999" y="632.6" font-size="12" fill="#2a2a2a" text-anchor="middle" textLength="17.9" lengthAdjust="spacingAndGlyphs">500</text>
<text x="716.9" y="632.6" font-size="12" fill="#2a2a2a" text-anchor="middle" textLength="17.9" lengthAdjust="spacingAndGlyphs">600</text>
<text x="747.6" y="632.6" font-size="12" fill="#2a2a2a" text-anchor="middle" textLength="17.9" lengthAdjust="spacingAndGlyphs">700</text>
<text x="774.1" y="632.6" font-size="12" fill="#2a2a2a" text-anchor="middle" textLength="17.9" lengthAdjust="spacingAndGlyphs">800</text>
<text x="797.5" y="632.6" font-size="12" fill="#2a2a2a" text-anchor="middle" textLength="17.9" lengthAdjust="spacingAndGlyphs">900</text>
<text x="818.5" y="632.6" font-size="12" fill="#2a2a2a" text-anchor="middle" textLength="11.1" lengthAdjust="spacingAndGlyphs">1k</text>
<text x="956.1999999999999" y="632.6" font-size="12" fill="#2a2a2a" text-anchor="middle" textLength="11.1" lengthAdjust="spacingAndGlyphs">2k</text>
<text x="1036.8000000000002" y="632.6" font-size="12" fill="#2a2a2a" text-anchor="middle" textLength="11.1" lengthAdjust="spacingAndGlyphs">3k</text>
<text x="1094.0" y="632.6" font-size="12" fill="#2a2a2a" text-anchor="middle" textLength="11.1" lengthAdjust="spacingAndGlyphs">4k</text>
<text x="1138.4" y="632.6" font-size="12" fill="#2a2a2a" text-anchor="middle" textLength="11.1" lengthAdjust="spacingAndGlyphs">5k</text>
<text x="1174.6000000000001" y="632.6" font-size="12" fill="#2a2a2a" text-anchor="middle" textLength="11.1" lengthAdjust="spacingAndGlyphs">6k</text>
<text x="1205.2" y="632.6" font-size="12" fill="#2a2a2a" text-anchor="middle" textLength="11.1" lengthAdjust="spacingAndGlyphs">7k</text>
<text x="1231.8000000000002" y="632.6" font-size="12" fill="#2a2a2a" text-anchor="middle" textLength="11.1" lengthAdjust="spacingAndGlyphs">8k</text>
<text x="1255.2" y="632.6" font-size="12" fill="#2a2a2a" text-anchor="middle" textLength="11.1" lengthAdjust="spacingAndGlyphs">9k</text>
<text x="1276.1000000000001" y="632.6" font-size="12" fill="#2a2a2a" text-anchor="middle" textLength="16.8" lengthAdjust="spacingAndGlyphs">10k</text>
<text x="1312.4" y="632.6" font-size="12" fill="#8c8c8c" text-anchor="middle" textLength="16.8" lengthAdjust="spacingAndGlyphs">12k</text>
<text x="1343.0" y="632.6" font-size="12" fill="#8c8c8c" text-anchor="middle" textLength="16.8" lengthAdjust="spacingAndGlyphs">14k</text>
<text x="1369.6000000000001" y="632.6" font-size="12" fill="#8c8c8c" text-anchor="middle" textLength="16.8" lengthAdjust="spacingAndGlyphs">16k</text>
<text x="27.9" y="54.3" font-size="12" fill="#2a2a2a" text-anchor="middle" textLength="17.2" lengthAdjust="spacingAndGlyphs">SPL</text>
<rect x="6.5" y="52.5" width="32" height="16" fill="#fff" stroke="#0000ff" stroke-width="1" shape-rendering="crispEdges"/>
<text x="22.8" y="65.3" font-size="12" fill="#0000ee" text-anchor="middle" textLength="27" lengthAdjust="spacingAndGlyphs">105,0</text>
<rect x="1397.5" y="619.5" width="31" height="16" fill="#fff" stroke="#0000ff" stroke-width="1" shape-rendering="crispEdges"/>
<text x="1413.4" y="632.5" font-size="12" fill="#0000ee" text-anchor="middle" textLength="26" lengthAdjust="spacingAndGlyphs">20,0k</text>
</g>
<clipPath id="lc"><rect x="380" y="640" width="169.1" height="30"/></clipPath>
<g font-family="Liberation Sans, sans-serif">
<rect x="12.55" y="648.55" width="12.9" height="12.9" rx="2.9" fill="#fff" stroke="#0a7dff" stroke-width="1.15"/>
<path d="M15.1,655.2 L17.5,658.6 L22.7,651.3" fill="none" stroke="#0a7dff" stroke-width="1.75" stroke-linecap="butt" stroke-linejoin="miter"/>
<line x1="197" x2="246" y1="656" y2="656" stroke="#b00000" stroke-width="2" stroke-linecap="round"/>
<rect x="207" y="648" width="29" height="16" rx="3.6" fill="#fff" stroke="#b00000" stroke-width="2"/>
<path d="M210.90,653.8 L213.50,652.2 L213.50,658.8" fill="none" stroke="#1a1a1a" stroke-width="1.15" stroke-linejoin="miter"/>
<line x1="221.1" y1="649.7" x2="213.7" y2="662.2" stroke="#1a1a1a" stroke-width="1.05"/>
<text x="227.1" y="661.8" font-size="9.7" fill="#1a1a1a" text-anchor="middle" textLength="10.7" lengthAdjust="spacingAndGlyphs">48</text>
<rect x="369.55" y="648.55" width="12.9" height="12.9" rx="2.9" fill="#fff" stroke="#0a7dff" stroke-width="1.15"/>
<path d="M372.1,655.2 L374.5,658.6 L379.7,651.3" fill="none" stroke="#0a7dff" stroke-width="1.75" stroke-linecap="butt" stroke-linejoin="miter"/>
<line x1="554" x2="603" y1="656" y2="656" stroke="#006432" stroke-width="2" stroke-linecap="round"/>
<rect x="564" y="648" width="29" height="16" rx="3.6" fill="#fff" stroke="#006432" stroke-width="2"/>
<path d="M567.90,653.8 L570.50,652.2 L570.50,658.8" fill="none" stroke="#1a1a1a" stroke-width="1.15" stroke-linejoin="miter"/>
<line x1="578.1" y1="649.7" x2="570.7" y2="662.2" stroke="#1a1a1a" stroke-width="1.05"/>
<text x="584.1" y="661.8" font-size="9.7" fill="#1a1a1a" text-anchor="middle" textLength="10.7" lengthAdjust="spacingAndGlyphs">48</text>
<rect x="726.55" y="648.55" width="12.9" height="12.9" rx="2.9" fill="#fff" stroke="#0a7dff" stroke-width="1.15"/>
<path d="M729.1,655.2 L731.5,658.6 L736.7,651.3" fill="none" stroke="#0a7dff" stroke-width="1.75" stroke-linecap="butt" stroke-linejoin="miter"/>
<line x1="911" x2="960" y1="656" y2="656" stroke="#403cd0" stroke-width="2" stroke-linecap="round"/>
<rect x="921" y="648" width="29" height="16" rx="3.6" fill="#fff" stroke="#403cd0" stroke-width="2"/>
<path d="M927.90,653.8 L930.50,652.2 L930.50,658.8" fill="none" stroke="#1a1a1a" stroke-width="1.15" stroke-linejoin="miter"/>
<line x1="938.2" y1="649.7" x2="930.6" y2="662.2" stroke="#1a1a1a" stroke-width="1.05"/>
<text x="942.0" y="661.8" font-size="9.7" fill="#1a1a1a" text-anchor="middle" textLength="5.2" lengthAdjust="spacingAndGlyphs">6</text>
<rect x="12.55" y="669.55" width="12.9" height="12.9" rx="2.9" fill="#fff" stroke="#0a7dff" stroke-width="1.15"/>
<path d="M15.1,676.2 L17.5,679.6 L22.7,672.3" fill="none" stroke="#0a7dff" stroke-width="1.75" stroke-linecap="butt" stroke-linejoin="miter"/>
<line x1="197" x2="246" y1="677" y2="677" stroke="#e66e00" stroke-width="2" stroke-linecap="round"/>
<rect x="207" y="669" width="29" height="16" rx="3.6" fill="#fff" stroke="#e66e00" stroke-width="2"/>
<path d="M213.90,674.8 L216.50,673.2 L216.50,679.8" fill="none" stroke="#1a1a1a" stroke-width="1.15" stroke-linejoin="miter"/>
<line x1="224.2" y1="670.7" x2="216.6" y2="683.2" stroke="#1a1a1a" stroke-width="1.05"/>
<text x="228.0" y="682.8" font-size="9.7" fill="#1a1a1a" text-anchor="middle" textLength="5.2" lengthAdjust="spacingAndGlyphs">6</text>
<rect x="369.55" y="669.55" width="12.9" height="12.9" rx="2.9" fill="#fff" stroke="#0a7dff" stroke-width="1.15"/>
<path d="M372.1,676.2 L374.5,679.6 L379.7,672.3" fill="none" stroke="#0a7dff" stroke-width="1.75" stroke-linecap="butt" stroke-linejoin="miter"/>
<line x1="554" x2="603" y1="677" y2="677" stroke="#009600" stroke-width="2" stroke-linecap="round"/>
<rect x="564" y="669" width="29" height="16" rx="3.6" fill="#fff" stroke="#009600" stroke-width="2"/>
<path d="M570.90,674.8 L573.50,673.2 L573.50,679.8" fill="none" stroke="#1a1a1a" stroke-width="1.15" stroke-linejoin="miter"/>
<line x1="581.2" y1="670.7" x2="573.6" y2="683.2" stroke="#1a1a1a" stroke-width="1.05"/>
<text x="585.0" y="682.8" font-size="9.7" fill="#1a1a1a" text-anchor="middle" textLength="5.2" lengthAdjust="spacingAndGlyphs">6</text>
<rect x="726.55" y="669.55" width="12.9" height="12.9" rx="2.9" fill="#fff" stroke="#0a7dff" stroke-width="1.15"/>
<path d="M729.1,676.2 L731.5,679.6 L736.7,672.3" fill="none" stroke="#0a7dff" stroke-width="1.75" stroke-linecap="butt" stroke-linejoin="miter"/>
<line x1="911" x2="960" y1="677" y2="677" stroke="#005ac8" stroke-width="2" stroke-linecap="round"/>
<rect x="921" y="669" width="29" height="16" rx="3.6" fill="#fff" stroke="#005ac8" stroke-width="2"/>
<path d="M927.90,674.8 L930.50,673.2 L930.50,679.8" fill="none" stroke="#1a1a1a" stroke-width="1.15" stroke-linejoin="miter"/>
<line x1="938.2" y1="670.7" x2="930.6" y2="683.2" stroke="#1a1a1a" stroke-width="1.05"/>
<text x="942.0" y="682.8" font-size="9.7" fill="#1a1a1a" text-anchor="middle" textLength="5.2" lengthAdjust="spacingAndGlyphs">6</text>
<rect x="12.55" y="690.55" width="12.9" height="12.9" rx="2.9" fill="#fff" stroke="#0a7dff" stroke-width="1.15"/>
<path d="M15.1,697.2 L17.5,700.6 L22.7,693.3" fill="none" stroke="#0a7dff" stroke-width="1.75" stroke-linecap="butt" stroke-linejoin="miter"/>
<line x1="197" x2="246" y1="698" y2="698" stroke="#963c00" stroke-width="2" stroke-linecap="round"/>
<rect x="207" y="690" width="29" height="16" rx="3.6" fill="#fff" stroke="#963c00" stroke-width="2"/>
<path d="M213.90,695.8 L216.50,694.2 L216.50,700.8" fill="none" stroke="#1a1a1a" stroke-width="1.15" stroke-linejoin="miter"/>
<line x1="224.2" y1="691.7" x2="216.6" y2="704.2" stroke="#1a1a1a" stroke-width="1.05"/>
<text x="228.0" y="703.8" font-size="9.7" fill="#1a1a1a" text-anchor="middle" textLength="5.2" lengthAdjust="spacingAndGlyphs">6</text>
<rect x="369.55" y="690.55" width="12.9" height="12.9" rx="2.9" fill="#fff" stroke="#0a7dff" stroke-width="1.15"/>
<path d="M372.1,697.2 L374.5,700.6 L379.7,693.3" fill="none" stroke="#0a7dff" stroke-width="1.75" stroke-linecap="butt" stroke-linejoin="miter"/>
<line x1="554" x2="603" y1="698" y2="698" stroke="#007878" stroke-width="2" stroke-linecap="round"/>
<rect x="564" y="690" width="29" height="16" rx="3.6" fill="#fff" stroke="#007878" stroke-width="2"/>
<path d="M570.90,695.8 L573.50,694.2 L573.50,700.8" fill="none" stroke="#1a1a1a" stroke-width="1.15" stroke-linejoin="miter"/>
<line x1="581.2" y1="691.7" x2="573.6" y2="704.2" stroke="#1a1a1a" stroke-width="1.05"/>
<text x="585.0" y="703.8" font-size="9.7" fill="#1a1a1a" text-anchor="middle" textLength="5.2" lengthAdjust="spacingAndGlyphs">6</text>
<text x="32.08" y="660" font-size="12.4" fill="#b00000" textLength="9.26" lengthAdjust="spacingAndGlyphs">1:</text>
<text x="44.13" y="660" font-size="12.4" fill="#b00000" textLength="32.78" lengthAdjust="spacingAndGlyphs">Target</text>
<text x="79.92" y="660" font-size="12.4" fill="#b00000" textLength="23.87" lengthAdjust="spacingAndGlyphs">nov.</text>
<text x="105.38" y="660" font-size="12.4" fill="#b00000" textLength="7.59" lengthAdjust="spacingAndGlyphs">9</text>
<text x="114.91" y="660" font-size="12.4" fill="#b00000" textLength="26.21" lengthAdjust="spacingAndGlyphs">21:11</text>
<text x="31.85" y="681" font-size="12.4" fill="#e66e00" textLength="9.92" lengthAdjust="spacingAndGlyphs">4:</text>
<text x="43.91" y="681" font-size="12.4" fill="#e66e00" textLength="8.08" lengthAdjust="spacingAndGlyphs">R</text>
<text x="54.58" y="681" font-size="12.4" fill="#e66e00" textLength="7.64" lengthAdjust="spacingAndGlyphs">R</text>
<text x="63.92" y="681" font-size="12.4" fill="#e66e00" textLength="20.34" lengthAdjust="spacingAndGlyphs">mai</text>
<text x="88.17" y="681" font-size="12.4" fill="#e66e00" textLength="11.29" lengthAdjust="spacingAndGlyphs">14</text>
<text x="31.92" y="702" font-size="12.4" fill="#963c00" textLength="9.80" lengthAdjust="spacingAndGlyphs">7:</text>
<text x="43.99" y="702" font-size="12.4" fill="#963c00" textLength="7.93" lengthAdjust="spacingAndGlyphs">R</text>
<text x="53.63" y="702" font-size="12.4" fill="#963c00" textLength="14.37" lengthAdjust="spacingAndGlyphs">SR</text>
<text x="69.92" y="702" font-size="12.4" fill="#963c00" textLength="20.51" lengthAdjust="spacingAndGlyphs">mai</text>
<text x="94.17" y="702" font-size="12.4" fill="#963c00" textLength="11.28" lengthAdjust="spacingAndGlyphs">14</text>
<text x="389.11" y="660" font-size="12.4" fill="#006432" textLength="9.06" lengthAdjust="spacingAndGlyphs">2:</text>
<text x="400.91" y="660" font-size="12.4" fill="#006432" textLength="32.79" lengthAdjust="spacingAndGlyphs">Target</text>
<text x="436.91" y="660" font-size="12.4" fill="#006432" textLength="32.79" lengthAdjust="spacingAndGlyphs">Target</text>
<text x="472.91" y="660" font-size="12.4" fill="#006432" textLength="32.79" lengthAdjust="spacingAndGlyphs">Target</text>
<text x="508.91" y="660" font-size="12.4" fill="#006432" textLength="32.79" lengthAdjust="spacingAndGlyphs">Target</text>
<text x="544.30" y="660" font-size="12.4" fill="#006432" textLength="8.30" lengthAdjust="spacingAndGlyphs" clip-path="url(#lc)">T</text>
<text x="389.14" y="681" font-size="12.4" fill="#009600" textLength="8.86" lengthAdjust="spacingAndGlyphs">5:</text>
<text x="401.37" y="681" font-size="12.4" fill="#009600" textLength="7.41" lengthAdjust="spacingAndGlyphs">C</text>
<text x="412.68" y="681" font-size="12.4" fill="#009600" textLength="7.81" lengthAdjust="spacingAndGlyphs">C</text>
<text x="422.99" y="681" font-size="12.4" fill="#009600" textLength="19.92" lengthAdjust="spacingAndGlyphs">mai</text>
<text x="447.22" y="681" font-size="12.4" fill="#009600" textLength="10.82" lengthAdjust="spacingAndGlyphs">14</text>
<text x="388.52" y="702" font-size="12.4" fill="#007878" textLength="9.58" lengthAdjust="spacingAndGlyphs">8:</text>
<text x="400.87" y="702" font-size="12.4" fill="#007878" textLength="17.72" lengthAdjust="spacingAndGlyphs">LFE</text>
<text x="422.15" y="702" font-size="12.4" fill="#007878" textLength="17.58" lengthAdjust="spacingAndGlyphs">LFE</text>
<text x="442.69" y="702" font-size="12.4" fill="#007878" textLength="20.18" lengthAdjust="spacingAndGlyphs">mai</text>
<text x="466.85" y="702" font-size="12.4" fill="#007878" textLength="11.01" lengthAdjust="spacingAndGlyphs">14</text>
<text x="745.63" y="660" font-size="12.4" fill="#403cd0" textLength="9.54" lengthAdjust="spacingAndGlyphs">3:</text>
<text x="757.54" y="660" font-size="12.4" fill="#403cd0" textLength="6.45" lengthAdjust="spacingAndGlyphs">L</text>
<text x="766.45" y="660" font-size="12.4" fill="#403cd0" textLength="6.39" lengthAdjust="spacingAndGlyphs">L</text>
<text x="775.95" y="660" font-size="12.4" fill="#403cd0" textLength="20.19" lengthAdjust="spacingAndGlyphs">mai</text>
<text x="799.84" y="660" font-size="12.4" fill="#403cd0" textLength="11.60" lengthAdjust="spacingAndGlyphs">14</text>
<text x="745.56" y="681" font-size="12.4" fill="#005ac8" textLength="9.53" lengthAdjust="spacingAndGlyphs">6:</text>
<text x="757.51" y="681" font-size="12.4" fill="#005ac8" textLength="6.16" lengthAdjust="spacingAndGlyphs">L</text>
<text x="766.40" y="681" font-size="12.4" fill="#005ac8" textLength="12.07" lengthAdjust="spacingAndGlyphs">SL</text>
<text x="781.46" y="681" font-size="12.4" fill="#005ac8" textLength="20.43" lengthAdjust="spacingAndGlyphs">mai</text>
<text x="805.77" y="681" font-size="12.4" fill="#005ac8" textLength="11.34" lengthAdjust="spacingAndGlyphs">14</text>
<text x="293.23" y="660" font-size="12.4" fill="#b00000" textLength="21.62" lengthAdjust="spacingAndGlyphs">75,0</text>
<text x="317.41" y="660" font-size="12.4" fill="#b00000" textLength="13.60" lengthAdjust="spacingAndGlyphs">dB</text>
<text x="293.07" y="681" font-size="12.4" fill="#e66e00" textLength="22.02" lengthAdjust="spacingAndGlyphs">58,9</text>
<text x="317.35" y="681" font-size="12.4" fill="#e66e00" textLength="14.07" lengthAdjust="spacingAndGlyphs">dB</text>
<text x="293.34" y="702" font-size="12.4" fill="#963c00" textLength="20.40" lengthAdjust="spacingAndGlyphs">68,1</text>
<text x="317.39" y="702" font-size="12.4" fill="#963c00" textLength="13.63" lengthAdjust="spacingAndGlyphs">dB</text>
<text x="646.11" y="660" font-size="12.4" fill="#006432" textLength="25.47" lengthAdjust="spacingAndGlyphs">-98,2</text>
<text x="674.32" y="660" font-size="12.4" fill="#006432" textLength="13.57" lengthAdjust="spacingAndGlyphs">dB</text>
<text x="650.31" y="681" font-size="12.4" fill="#009600" textLength="21.08" lengthAdjust="spacingAndGlyphs">62,5</text>
<text x="674.49" y="681" font-size="12.4" fill="#009600" textLength="13.08" lengthAdjust="spacingAndGlyphs">dB</text>
<text x="674.10" y="702" font-size="12.4" fill="#007878" textLength="13.79" lengthAdjust="spacingAndGlyphs">dB</text>
<text x="1006.61" y="660" font-size="12.4" fill="#403cd0" textLength="20.72" lengthAdjust="spacingAndGlyphs">55,1</text>
<text x="1030.98" y="660" font-size="12.4" fill="#403cd0" textLength="13.67" lengthAdjust="spacingAndGlyphs">dB</text>
<text x="1006.64" y="681" font-size="12.4" fill="#005ac8" textLength="21.95" lengthAdjust="spacingAndGlyphs">62,7</text>
<text x="1030.90" y="681" font-size="12.4" fill="#005ac8" textLength="13.68" lengthAdjust="spacingAndGlyphs">dB</text>
<text x="572.44" y="31.3" font-size="23.5" fill="#101010" textLength="119.92" lengthAdjust="spacingAndGlyphs">Amplitudes</text>
<text x="700.04" y="31.3" font-size="23.5" fill="#101010" textLength="57.93" lengthAdjust="spacingAndGlyphs">avant</text>
<text x="765.24" y="31.3" font-size="23.5" fill="#101010" textLength="95.73" lengthAdjust="spacingAndGlyphs">calibrage</text>
</g>
</svg>
</body></html>
